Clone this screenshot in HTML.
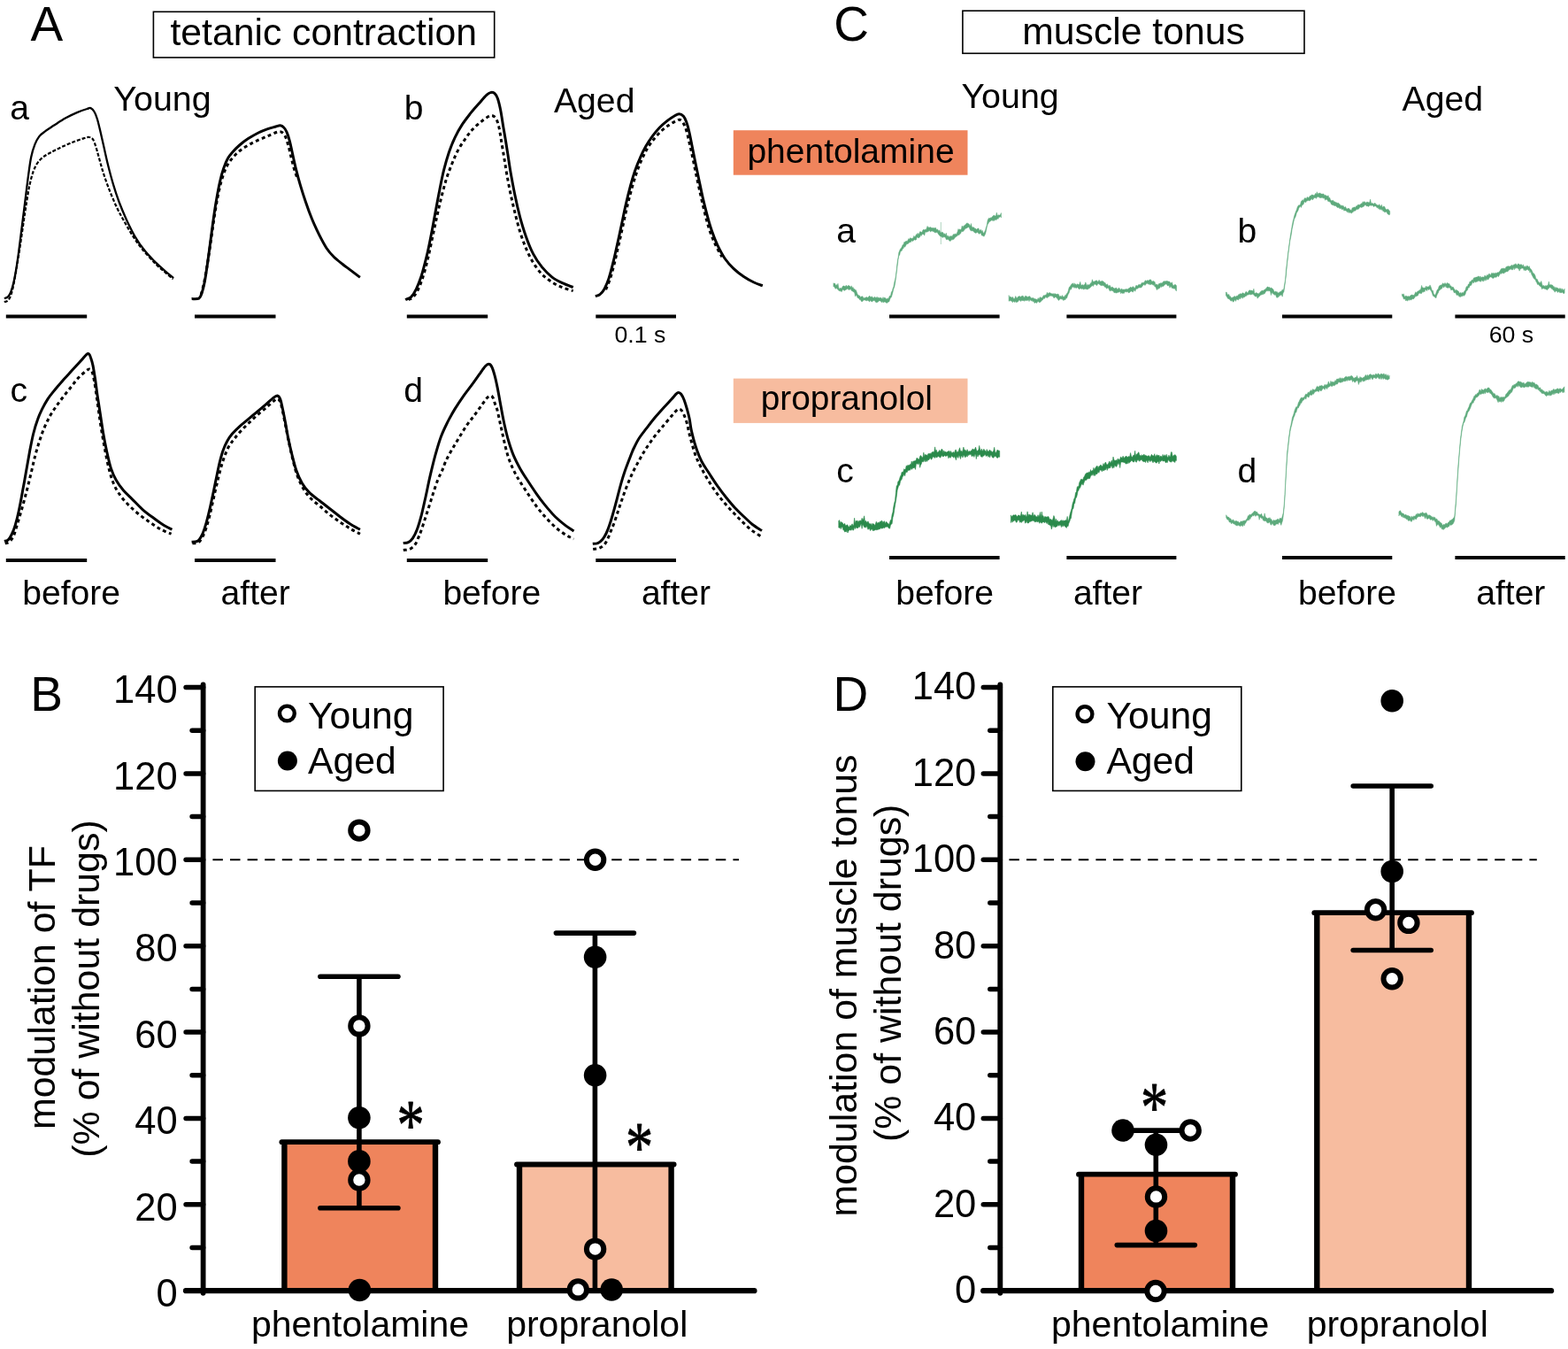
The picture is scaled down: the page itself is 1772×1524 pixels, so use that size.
<!DOCTYPE html>
<html lang="en"><head><meta charset="utf-8"><title>Figure</title>
<style>html,body{margin:0;padding:0;background:#fff;}body{width:1772px;height:1524px;overflow:hidden;}svg{display:block;}text{font-family:"Liberation Sans",sans-serif;fill:#000;}.ser{font-family:"Liberation Serif","DejaVu Serif",serif;}</style></head><body>
<svg width="1772" height="1524" viewBox="0 0 1772 1524">
<rect width="1772" height="1524" fill="#fff"/>
<text x="34.5" y="46.4" font-size="55">A</text>
<text x="34.2" y="803.0" font-size="55">B</text>
<text x="942.2" y="45.8" font-size="55">C</text>
<text x="941.5" y="803.0" font-size="55">D</text>
<rect x="173.4" y="13.3" width="385.3" height="51.7" fill="#fff" stroke="#000" stroke-width="1.6"/>
<text x="365.7" y="50.8" font-size="42.7" text-anchor="middle">tetanic contraction</text>
<rect x="1087.9" y="12.2" width="386.1" height="48.1" fill="#fff" stroke="#000" stroke-width="1.6"/>
<text x="1281.0" y="49.7" font-size="42.7" text-anchor="middle">muscle tonus</text>
<rect x="828.8" y="147.2" width="264.7" height="50.5" fill="#EF845C"/>
<text x="961.5" y="183.5" font-size="39" text-anchor="middle">phentolamine</text>
<rect x="828.8" y="427.6" width="264.7" height="50.3" fill="#F7BC9F"/>
<text x="956.8" y="462.7" font-size="38.8" text-anchor="middle">propranolol</text>
<text x="183.5" y="124.6" font-size="39.4" text-anchor="middle">Young</text>
<text x="671.7" y="126.6" font-size="39.2" text-anchor="middle">Aged</text>
<text x="11.3" y="134.8" font-size="39.1" text-anchor="start">a</text>
<text x="456.8" y="134.9" font-size="39.1" text-anchor="start">b</text>
<text x="11.5" y="454.0" font-size="39.1" text-anchor="start">c</text>
<text x="456.3" y="454.0" font-size="39.1" text-anchor="start">d</text>
<text x="723.4" y="387.0" font-size="26.7" text-anchor="middle">0.1 s</text>
<text x="80.6" y="683.0" font-size="39.1" text-anchor="middle">before</text>
<text x="288.7" y="683.0" font-size="39.1" text-anchor="middle">after</text>
<text x="555.8" y="683.0" font-size="39.1" text-anchor="middle">before</text>
<text x="764.0" y="683.0" font-size="39.1" text-anchor="middle">after</text>
<text x="1141.6" y="121.9" font-size="39.4" text-anchor="middle">Young</text>
<text x="1630.3" y="124.8" font-size="39.2" text-anchor="middle">Aged</text>
<text x="945.3" y="274.4" font-size="39.1" text-anchor="start">a</text>
<text x="1398.6" y="274.4" font-size="39.1" text-anchor="start">b</text>
<text x="945.3" y="545.2" font-size="39.1" text-anchor="start">c</text>
<text x="1398.6" y="545.2" font-size="39.1" text-anchor="start">d</text>
<text x="1708.0" y="387.0" font-size="26.7" text-anchor="middle">60 s</text>
<text x="1067.6" y="683.0" font-size="39.1" text-anchor="middle">before</text>
<text x="1252.0" y="683.0" font-size="39.1" text-anchor="middle">after</text>
<text x="1522.5" y="683.0" font-size="39.1" text-anchor="middle">before</text>
<text x="1707.3" y="683.0" font-size="39.1" text-anchor="middle">after</text>
<line x1="6.8" y1="357.6" x2="98.2" y2="357.6" stroke="#000" stroke-width="4"/>
<line x1="220.0" y1="357.6" x2="311.5" y2="357.6" stroke="#000" stroke-width="4"/>
<line x1="459.8" y1="357.6" x2="551.2" y2="357.6" stroke="#000" stroke-width="4"/>
<line x1="673.3" y1="357.6" x2="764.0" y2="357.6" stroke="#000" stroke-width="4"/>
<line x1="6.8" y1="633.1" x2="98.2" y2="633.1" stroke="#000" stroke-width="4"/>
<line x1="220.0" y1="633.1" x2="311.5" y2="633.1" stroke="#000" stroke-width="4"/>
<line x1="459.8" y1="633.1" x2="551.2" y2="633.1" stroke="#000" stroke-width="4"/>
<line x1="673.3" y1="633.1" x2="764.0" y2="633.1" stroke="#000" stroke-width="4"/>
<line x1="1005.0" y1="357.6" x2="1129.6" y2="357.6" stroke="#000" stroke-width="4"/>
<line x1="1205.4" y1="357.6" x2="1329.4" y2="357.6" stroke="#000" stroke-width="4"/>
<line x1="1449.0" y1="357.6" x2="1573.3" y2="357.6" stroke="#000" stroke-width="4"/>
<line x1="1644.4" y1="357.6" x2="1768.7" y2="357.6" stroke="#000" stroke-width="4"/>
<line x1="1005.0" y1="630.1" x2="1129.6" y2="630.1" stroke="#000" stroke-width="4"/>
<line x1="1205.4" y1="630.1" x2="1329.4" y2="630.1" stroke="#000" stroke-width="4"/>
<line x1="1449.0" y1="630.1" x2="1573.3" y2="630.1" stroke="#000" stroke-width="4"/>
<line x1="1644.4" y1="630.1" x2="1768.7" y2="630.1" stroke="#000" stroke-width="4"/>
<g fill="none" stroke="#000" stroke-linejoin="round" stroke-linecap="butt">
<path d="M4.9,337.1C5.6,336.8 7.8,336.7 9.0,335.4C10.3,334.2 11.2,332.6 12.3,329.7C13.4,326.8 14.5,323.1 15.6,318.2C16.7,313.3 17.8,307.0 18.9,300.2C20.0,293.3 21.1,285.4 22.1,277.2C23.2,269.0 24.3,259.7 25.4,250.9C26.5,242.2 27.6,233.4 28.7,224.7C29.8,215.9 30.9,206.4 32.0,198.4C33.1,190.5 34.0,183.0 35.3,177.1C36.5,171.2 37.9,167.0 39.4,163.2C40.9,159.3 42.4,156.6 44.3,154.1C46.2,151.7 48.1,150.4 50.9,148.4C53.6,146.3 56.9,144.3 60.7,141.8C64.5,139.4 69.5,136.1 73.8,133.6C78.2,131.2 82.9,128.8 87.0,127.1C91.1,125.3 95.8,123.8 98.4,123.0C101.0,122.1 101.2,121.6 102.5,122.1C103.9,122.7 105.4,124.2 106.6,126.3C107.9,128.3 108.8,130.9 109.9,134.5C111.0,138.0 112.0,142.4 113.2,147.6C114.4,152.8 115.8,159.1 117.3,165.6C118.8,172.2 120.4,179.8 122.2,187.0C124.0,194.1 125.9,201.4 128.0,208.3C130.0,215.1 132.1,221.4 134.5,228.0C137.0,234.5 139.7,241.1 142.7,247.7C145.7,254.2 149.0,261.3 152.6,267.3C156.1,273.4 160.2,279.0 164.1,283.8C167.9,288.5 172.0,292.5 175.5,296.1C179.1,299.6 182.0,302.1 185.4,305.1C188.8,308.1 194.3,312.6 196.1,314.1" stroke-width="2.3"/>
<path d="M4.9,341.2C5.7,340.8 8.3,340.9 9.8,338.7C11.3,336.5 12.7,332.6 13.9,328.0C15.2,323.5 16.1,317.7 17.2,311.6C18.3,305.6 19.4,298.8 20.5,292.0C21.6,285.1 22.7,278.0 23.8,270.6C24.9,263.2 26.0,255.0 27.1,247.7C28.2,240.3 29.3,232.9 30.4,226.3C31.4,219.8 32.4,213.8 33.6,208.3C34.9,202.8 36.2,197.6 37.7,193.5C39.2,189.4 40.7,186.4 42.7,183.7C44.6,180.9 46.8,179.0 49.2,177.1C51.7,175.2 54.1,174.0 57.4,172.2C60.7,170.4 64.8,168.4 68.9,166.4C73.0,164.5 77.9,162.3 82.0,160.7C86.1,159.1 90.4,157.6 93.5,156.6C96.7,155.6 99.0,154.8 100.9,155.0C102.8,155.1 103.8,155.6 105.0,157.4C106.2,159.2 107.2,162.3 108.3,165.6C109.4,168.9 110.3,172.7 111.6,177.1C112.8,181.5 114.2,187.0 115.7,191.9C117.2,196.8 118.8,201.7 120.6,206.6C122.4,211.6 124.3,216.5 126.3,221.4C128.4,226.3 130.7,231.7 132.9,236.2C135.1,240.7 136.9,243.8 139.5,248.5C142.1,253.1 145.1,258.7 148.5,264.1C151.9,269.4 155.5,274.9 160.0,280.5C164.5,286.1 171.0,293.1 175.5,297.7C180.1,302.3 183.7,305.1 187.0,308.0C190.4,311.0 194.1,314.0 195.6,315.3" stroke-width="2.2" stroke-dasharray="4 2"/>
<path d="M216.6,337.6C217.9,337.5 222.9,338.1 224.8,337.1C226.7,336.0 227.0,334.5 228.0,331.3C229.1,328.2 230.2,323.9 231.3,318.2C232.4,312.5 233.5,304.5 234.6,296.9C235.7,289.2 236.8,280.5 237.9,272.3C239.0,264.1 240.1,255.3 241.2,247.7C242.3,240.0 243.2,233.4 244.5,226.3C245.7,219.2 247.2,211.0 248.6,205.0C249.9,199.0 251.2,194.6 252.7,190.2C254.2,185.9 255.9,181.8 257.6,178.8C259.2,175.7 260.3,174.6 262.5,172.2C264.7,169.7 267.7,166.6 270.7,164.0C273.7,161.4 277.0,158.9 280.5,156.6C284.1,154.3 288.5,151.8 292.0,150.0C295.6,148.3 298.6,147.1 301.9,145.9C305.2,144.8 309.3,143.7 311.7,143.0C314.2,142.3 315.1,141.7 316.6,141.8C318.1,142.0 319.5,142.7 320.7,144.0C322.0,145.2 322.9,146.7 324.0,149.2C325.1,151.7 326.2,155.0 327.3,159.1C328.4,163.2 329.4,168.4 330.6,173.8C331.8,179.3 333.2,185.9 334.7,191.9C336.2,197.9 337.8,203.9 339.6,209.9C341.4,215.9 343.2,221.7 345.4,228.0C347.5,234.3 350.1,241.4 352.7,247.7C355.3,253.9 358.2,260.2 360.9,265.7C363.7,271.2 366.4,276.4 369.1,280.5C371.9,284.6 374.3,287.3 377.3,290.3C380.4,293.3 383.9,295.9 387.2,298.5C390.5,301.1 393.8,303.4 397.0,305.9C400.3,308.4 405.2,312.1 406.9,313.3" stroke-width="3"/>
<path d="M227.2,333.0C227.8,330.8 229.4,325.0 230.5,319.8C231.6,314.6 232.7,308.4 233.8,301.8C234.9,295.2 236.0,287.9 237.1,280.5C238.2,273.1 239.3,264.9 240.4,257.5C241.4,250.1 242.5,242.7 243.6,236.2C244.7,229.6 245.7,223.9 246.9,218.1C248.1,212.4 249.5,206.6 251.0,201.7C252.5,196.8 254.0,192.4 255.9,188.6C257.9,184.8 260.0,181.8 262.5,178.8C265.0,175.7 267.7,173.0 270.7,170.5C273.7,168.1 277.0,166.0 280.5,164.0C284.1,161.9 288.2,160.0 292.0,158.2C295.9,156.5 300.0,154.8 303.5,153.3C307.1,151.8 310.9,149.9 313.4,149.2C315.8,148.5 316.8,148.4 318.3,149.2C319.8,150.0 321.2,151.7 322.4,154.1C323.6,156.6 324.6,160.2 325.7,164.0C326.8,167.8 327.9,172.7 328.9,177.1C330.0,181.5 331.1,186.4 332.2,190.2C333.3,194.1 335.0,198.4 335.5,200.1" stroke-width="3" stroke-dasharray="3.9 3.5"/>
<path d="M458.2,338.6C459.3,338.0 462.7,337.3 464.8,335.3C466.8,333.2 468.6,330.2 470.5,326.3C472.4,322.3 474.3,317.5 476.3,311.5C478.2,305.5 480.2,297.5 482.0,290.2C483.8,282.8 485.3,275.4 486.9,267.2C488.6,259.0 490.2,249.7 491.8,240.9C493.5,232.2 495.1,222.9 496.8,214.7C498.4,206.5 499.9,198.8 501.7,191.7C503.5,184.6 505.4,178.0 507.4,172.0C509.5,166.0 511.5,160.8 514.0,155.6C516.4,150.4 519.2,145.5 522.2,140.9C525.2,136.2 528.8,131.8 532.0,127.7C535.3,123.6 538.9,119.7 541.9,116.3C544.9,112.8 547.9,109.2 550.1,107.2C552.3,105.3 553.5,104.7 555.0,104.4C556.5,104.2 557.9,104.4 559.1,105.6C560.3,106.7 561.3,108.2 562.4,111.3C563.5,114.5 564.6,119.0 565.7,124.5C566.8,129.9 567.7,136.8 568.9,144.1C570.2,151.5 571.7,160.3 573.0,168.8C574.4,177.2 575.6,186.3 577.1,195.0C578.7,203.8 580.3,212.8 582.1,221.3C583.8,229.7 585.8,238.2 587.8,245.9C589.9,253.5 591.9,260.4 594.4,267.2C596.8,274.0 599.6,281.1 602.6,286.9C605.6,292.6 608.9,297.3 612.4,301.6C616.0,306.0 620.1,310.1 623.9,313.1C627.7,316.1 631.4,317.8 635.4,319.7C639.4,321.6 645.6,323.8 647.7,324.6" stroke-width="3"/>
<path d="M461.5,338.6C462.3,338.1 464.6,337.9 466.4,336.1C468.2,334.3 470.2,331.7 472.1,327.9C474.1,324.1 476.0,319.1 477.9,313.1C479.8,307.1 481.9,299.2 483.6,291.8C485.4,284.4 486.9,276.5 488.6,268.8C490.2,261.2 491.8,253.2 493.5,245.9C495.1,238.5 496.6,231.6 498.4,224.5C500.2,217.4 502.1,209.8 504.1,203.2C506.2,196.6 508.5,190.6 510.7,185.2C512.9,179.7 514.8,175.0 517.3,170.4C519.7,165.7 522.7,161.2 525.5,157.3C528.2,153.3 530.7,149.9 533.7,146.6C536.7,143.3 540.5,140.0 543.5,137.6C546.5,135.1 549.5,133.0 551.7,131.8C553.9,130.7 555.1,130.3 556.6,130.7C558.1,131.1 559.5,132.1 560.7,134.3C562.0,136.5 563.1,140.0 564.0,144.1C565.0,148.2 565.5,153.2 566.5,158.9C567.4,164.6 568.7,172.0 569.8,178.6C570.9,185.2 571.8,191.4 573.0,198.3C574.3,205.1 575.6,212.5 577.1,219.6C578.7,226.7 580.3,233.8 582.1,240.9C583.8,248.0 585.8,255.7 587.8,262.3C589.9,268.8 591.9,274.6 594.4,280.3C596.8,286.1 599.6,291.8 602.6,296.7C605.6,301.6 608.9,306.2 612.4,309.8C616.0,313.5 620.1,316.4 623.9,318.9C627.7,321.3 631.4,323.0 635.4,324.6C639.4,326.3 645.6,328.0 647.7,328.7" stroke-width="3" stroke-dasharray="3.9 3.5"/>
<path d="M672.8,334.6C673.7,334.3 676.4,334.0 678.0,332.6C679.7,331.3 681.3,329.4 683.0,326.4C684.6,323.5 686.3,319.8 687.9,314.9C689.5,310.0 691.2,303.4 692.8,296.9C694.5,290.3 696.1,282.9 697.7,275.5C699.4,268.2 701.0,260.2 702.7,252.6C704.3,244.9 705.9,236.7 707.6,229.6C709.2,222.5 710.9,215.9 712.5,209.9C714.1,203.9 715.6,198.7 717.4,193.5C719.2,188.3 721.1,183.4 723.2,178.8C725.2,174.1 727.4,169.7 729.7,165.6C732.1,161.5 734.5,157.7 737.1,154.1C739.7,150.6 742.6,147.2 745.3,144.3C748.0,141.4 750.8,139.1 753.5,136.9C756.3,134.7 759.4,132.5 761.7,131.2C764.0,129.8 765.7,128.7 767.5,128.7C769.2,128.7 771.0,129.7 772.4,131.2C773.8,132.7 774.6,134.7 775.7,137.7C776.8,140.7 777.9,144.6 778.9,149.2C780.0,153.9 781.1,160.2 782.2,165.6C783.3,171.1 784.3,176.0 785.5,182.0C786.7,188.0 788.1,194.6 789.6,201.7C791.1,208.8 792.9,217.6 794.5,224.7C796.2,231.8 797.8,238.4 799.5,244.4C801.1,250.4 802.5,255.3 804.4,260.8C806.3,266.3 808.5,272.0 810.9,277.2C813.4,282.4 816.1,287.6 819.1,292.0C822.1,296.3 825.4,300.0 829.0,303.4C832.5,306.9 836.6,309.9 840.5,312.5C844.3,315.1 848.4,317.3 852.0,319.0C855.5,320.7 860.2,322.2 861.8,322.8" stroke-width="3"/>
<path d="M684.6,327.2C685.4,325.2 687.9,320.0 689.5,314.9C691.2,309.9 692.8,303.4 694.5,296.9C696.1,290.3 697.7,282.8 699.4,275.5C701.0,268.3 702.7,260.8 704.3,253.4C705.9,246.0 707.6,238.1 709.2,231.3C710.9,224.4 712.5,218.3 714.1,212.4C715.8,206.5 717.3,201.2 719.1,196.0C720.8,190.8 722.8,185.9 724.8,181.2C726.9,176.6 729.0,172.1 731.4,168.1C733.7,164.1 736.2,160.7 738.8,157.4C741.3,154.1 744.2,151.0 747.0,148.4C749.7,145.8 752.4,143.8 755.2,141.8C757.9,139.9 761.2,138.0 763.4,136.9C765.5,135.8 766.8,134.9 768.3,135.3C769.8,135.7 771.2,137.3 772.4,139.4C773.6,141.4 774.6,144.0 775.7,147.6C776.8,151.1 777.9,156.1 778.9,160.7C780.0,165.4 781.0,169.7 782.2,175.5C783.5,181.2 784.8,188.0 786.3,195.2C787.8,202.3 789.6,210.7 791.3,218.1C792.9,225.5 794.5,232.9 796.2,239.5C797.8,246.0 799.2,251.6 801.1,257.5C803.0,263.4 805.2,269.3 807.7,274.7C810.1,280.2 814.5,287.7 815.9,290.3" stroke-width="3" stroke-dasharray="3.9 3.5"/>
<path d="M4.9,611.4C5.6,611.2 7.7,611.3 9.0,610.1C10.4,608.9 11.8,606.8 13.1,604.0C14.5,601.2 15.9,597.9 17.2,593.4C18.6,588.8 20.0,583.2 21.3,577.0C22.7,570.7 24.1,563.0 25.4,555.6C26.8,548.2 28.2,540.3 29.5,532.7C30.9,525.0 32.3,516.8 33.6,509.7C35.0,502.6 36.2,496.0 37.7,490.0C39.2,484.0 41.0,478.2 42.7,473.6C44.3,468.9 45.7,465.9 47.6,462.1C49.5,458.3 51.7,454.3 54.1,450.6C56.6,446.9 59.3,443.7 62.3,440.0C65.4,436.3 68.9,432.2 72.2,428.5C75.5,424.8 78.8,421.4 82.0,417.8C85.3,414.3 89.3,410.0 91.9,407.1C94.5,404.3 96.2,401.8 97.6,400.6C99.0,399.4 99.6,399.2 100.4,399.8C101.2,400.3 101.8,401.7 102.5,403.9C103.3,406.1 104.2,408.9 105.0,412.9C105.8,416.9 106.6,422.2 107.5,427.7C108.3,433.1 109.0,439.1 109.9,445.7C110.9,452.3 112.1,459.9 113.2,467.0C114.3,474.1 115.3,481.3 116.5,488.4C117.7,495.5 119.1,502.9 120.6,509.7C122.1,516.5 123.7,523.9 125.5,529.4C127.3,534.8 128.9,538.4 131.3,542.5C133.6,546.6 136.4,550.4 139.5,554.0C142.5,557.5 145.7,560.3 149.3,563.8C152.9,567.4 157.0,571.9 160.8,575.3C164.6,578.7 168.4,581.5 172.3,584.3C176.1,587.2 180.1,590.2 183.8,592.5C187.4,594.9 192.6,597.3 194.4,598.3" stroke-width="3"/>
<path d="M5.7,613.9C6.6,613.6 9.0,613.7 10.7,612.2C12.3,610.7 14.1,608.3 15.6,604.8C17.1,601.4 18.2,596.6 19.7,591.7C21.2,586.8 22.9,581.3 24.6,575.3C26.3,569.3 28.2,562.2 29.9,555.6C31.6,549.1 33.2,542.5 34.8,535.9C36.4,529.4 37.7,522.5 39.4,516.3C41.0,510.0 42.8,503.7 44.6,498.2C46.4,492.7 48.1,488.1 50.0,483.4C52.0,478.8 54.1,474.3 56.3,470.3C58.5,466.3 60.7,463.2 63.2,459.6C65.6,456.1 68.1,452.7 70.9,449.0C73.7,445.3 77.1,441.2 80.1,437.5C83.0,433.8 85.8,429.8 88.6,426.8C91.4,423.8 94.7,421.1 96.8,419.5C98.8,417.8 99.7,416.9 100.9,417.0C102.1,417.1 103.2,417.9 104.2,420.3C105.1,422.6 105.8,426.4 106.6,430.9C107.5,435.4 108.3,441.6 109.1,447.3C109.9,453.1 110.6,458.8 111.6,465.4C112.5,472.0 113.6,479.3 114.8,486.7C116.1,494.1 117.4,502.0 118.9,509.7C120.4,517.3 122.1,526.1 123.9,532.7C125.6,539.2 127.3,544.1 129.6,549.1C131.9,554.0 134.8,558.2 137.8,562.2C140.8,566.2 144.1,569.4 147.7,572.9C151.2,576.3 155.3,579.7 159.1,582.7C163.0,585.7 166.8,588.3 170.6,590.9C174.5,593.5 178.3,596.2 182.1,598.3C185.9,600.3 191.7,602.4 193.6,603.2" stroke-width="3" stroke-dasharray="3.9 3.5"/>
<path d="M216.6,612.2C217.7,612.1 221.3,612.4 223.1,611.4C224.9,610.5 225.9,608.9 227.2,606.5C228.6,604.0 230.0,600.7 231.3,596.6C232.7,592.5 234.1,587.3 235.4,581.9C236.8,576.4 238.2,570.1 239.5,563.8C240.9,557.5 242.3,550.7 243.6,544.1C245.0,537.6 246.4,530.2 247.7,524.5C249.1,518.7 250.3,514.1 251.8,509.7C253.3,505.3 255.0,501.5 256.8,498.2C258.5,494.9 260.2,492.7 262.5,490.0C264.8,487.3 267.7,484.5 270.7,481.8C273.7,479.1 277.3,476.3 280.5,473.6C283.8,470.9 287.1,468.1 290.4,465.4C293.7,462.7 297.2,459.8 300.2,457.2C303.2,454.6 306.3,451.5 308.4,449.8C310.6,448.1 312.0,446.9 313.4,447.0C314.7,447.2 315.7,448.4 316.6,450.6C317.6,452.9 318.1,456.1 319.1,460.5C320.1,464.8 321.3,471.1 322.4,476.9C323.5,482.6 324.4,488.9 325.7,494.9C326.9,500.9 328.3,507.0 329.8,513.0C331.3,519.0 332.8,525.5 334.7,531.0C336.6,536.5 338.8,541.5 341.3,545.8C343.7,550.0 346.2,553.2 349.5,556.4C352.7,559.7 357.1,562.5 360.9,565.5C364.8,568.5 368.6,571.5 372.4,574.5C376.3,577.5 380.1,580.6 383.9,583.5C387.7,586.4 391.6,589.3 395.4,591.7C399.2,594.2 405.0,597.2 406.9,598.3" stroke-width="3"/>
<path d="M217.4,613.9C218.5,613.7 222.0,614.3 223.9,613.0C225.9,611.8 227.4,609.2 228.9,606.5C230.4,603.8 231.6,600.7 233.0,596.6C234.3,592.5 235.7,587.3 237.1,581.9C238.4,576.4 239.8,569.8 241.2,563.8C242.5,557.8 243.9,551.5 245.3,545.8C246.6,540.0 248.0,534.3 249.4,529.4C250.7,524.5 252.0,520.4 253.5,516.3C255.0,512.1 256.6,508.0 258.4,504.8C260.2,501.5 261.8,499.6 264.1,496.6C266.5,493.6 269.3,490.0 272.3,486.7C275.4,483.4 278.9,480.0 282.2,476.9C285.5,473.7 288.8,470.7 292.0,467.9C295.3,465.0 299.0,462.1 301.9,459.6C304.7,457.2 307.3,454.6 309.3,453.1C311.2,451.6 312.1,450.5 313.4,450.6C314.6,450.8 315.6,451.4 316.6,453.9C317.7,456.4 318.6,460.7 319.6,465.4C320.6,470.0 321.7,476.1 322.9,481.8C324.0,487.5 325.2,493.8 326.5,499.8C327.8,505.9 329.1,511.9 330.6,517.9C332.1,523.9 333.6,530.5 335.5,535.9C337.4,541.4 339.6,546.3 342.1,550.7C344.5,555.1 347.0,558.6 350.3,562.2C353.6,565.7 357.9,568.8 361.8,572.0C365.6,575.3 369.4,578.9 373.2,581.9C377.1,584.9 380.9,587.5 384.7,590.1C388.6,592.7 392.5,595.3 396.2,597.5C399.9,599.6 405.1,602.2 406.9,603.2" stroke-width="3" stroke-dasharray="3.9 3.5"/>
<path d="M455.7,613.4C456.7,613.3 459.7,613.6 461.5,612.7C463.3,611.8 464.8,610.5 466.4,608.1C468.0,605.7 469.7,602.7 471.3,598.3C473.0,593.9 474.6,588.2 476.3,581.9C477.9,575.6 479.5,567.9 481.2,560.5C482.8,553.2 484.3,545.2 486.1,537.6C487.9,529.9 489.8,522.0 491.8,514.6C493.9,507.2 496.1,499.6 498.4,493.3C500.7,487.0 503.2,482.1 505.8,476.9C508.4,471.7 511.0,467.0 514.0,462.1C517.0,457.2 520.5,452.0 523.8,447.3C527.1,442.7 530.7,438.3 533.7,434.2C536.7,430.1 539.4,426.2 541.9,422.7C544.3,419.3 546.7,415.6 548.4,413.7C550.2,411.8 551.3,411.1 552.5,411.3C553.8,411.4 554.7,412.3 555.8,414.5C556.9,416.7 558.0,420.3 559.1,424.4C560.2,428.5 561.3,433.7 562.4,439.1C563.5,444.6 564.4,450.6 565.7,457.2C566.9,463.8 568.3,471.7 569.8,478.5C571.3,485.4 572.9,492.2 574.7,498.2C576.5,504.2 578.2,509.4 580.4,514.6C582.6,519.8 585.2,524.7 587.8,529.4C590.4,534.0 593.0,537.9 596.0,542.5C599.0,547.1 602.6,552.6 605.9,557.3C609.1,561.9 612.1,566.0 615.7,570.4C619.3,574.8 623.4,579.7 627.2,583.5C631.0,587.3 635.1,590.6 638.7,593.4C642.2,596.1 646.9,598.8 648.5,599.9" stroke-width="3"/>
<path d="M455.8,621.4C457.0,621.2 460.7,621.4 462.9,620.4C465.1,619.4 467.4,617.3 469.0,615.3C470.6,613.3 471.2,610.9 472.3,608.5C473.4,606.1 474.1,604.7 475.4,601.1C476.7,597.5 478.5,591.8 480.1,586.9C481.7,582.0 483.3,577.0 484.9,572.0C486.5,567.0 488.0,562.1 489.6,557.1C491.2,552.1 493.1,546.4 494.7,542.2C496.3,538.0 498.0,535.5 499.5,532.0C501.0,528.5 501.9,525.1 503.7,521.2C505.5,517.3 508.0,512.8 510.5,508.4C513.0,504.0 515.8,499.4 518.6,494.8C521.4,490.2 524.5,484.9 527.4,480.6C530.3,476.3 533.3,473.1 536.2,469.1C539.1,465.2 542.6,460.2 545.0,456.9C547.4,453.6 548.8,451.1 550.4,449.5C552.0,447.9 553.4,447.1 554.5,447.1C555.6,447.1 556.4,448.1 557.2,449.5C558.0,450.9 558.4,453.4 559.2,455.6C560.0,457.9 561.0,459.7 561.9,463.0C562.8,466.3 563.7,471.1 564.6,475.2C565.5,479.3 566.4,483.3 567.3,487.4C568.2,491.5 569.0,495.3 570.0,499.6C571.0,503.9 572.1,508.9 573.4,513.1C574.6,517.3 575.9,520.8 577.5,524.6C579.1,528.4 581.0,532.6 582.9,536.1C584.8,539.6 586.1,541.7 588.6,545.6C591.1,549.5 594.6,554.8 597.7,559.5C600.9,564.2 604.2,569.4 607.5,573.7C610.8,578.0 613.8,581.4 617.3,585.2C620.8,589.0 625.0,593.3 628.8,596.6C632.6,599.9 637.0,602.8 640.3,604.8C643.6,606.8 647.1,608.2 648.5,608.9" stroke-width="3" stroke-dasharray="3.9 3.5"/>
<path d="M669.8,614.3C670.8,614.2 673.7,614.5 675.6,613.6C677.5,612.8 679.4,611.1 681.0,609.2C682.6,607.4 683.9,605.0 685.1,602.5C686.3,600.0 687.3,597.5 688.4,594.3C689.5,591.1 690.7,587.3 691.8,583.5C692.9,579.7 694.1,575.5 695.2,571.3C696.3,567.1 697.5,562.7 698.6,558.4C699.7,554.1 700.8,549.9 702.0,545.6C703.2,541.3 704.4,537.3 706.0,532.7C707.6,528.1 709.8,522.4 711.5,518.0C713.2,513.6 714.4,510.3 716.2,506.5C718.0,502.7 719.9,498.7 722.3,495.0C724.7,491.3 727.5,488.0 730.4,484.2C733.3,480.4 736.6,475.9 739.9,472.0C743.2,468.1 746.9,464.0 750.1,460.5C753.3,457.0 756.5,453.6 758.9,451.0C761.3,448.4 763.0,446.1 764.3,444.9C765.6,443.6 765.8,443.4 766.7,443.5C767.6,443.6 768.6,443.8 769.7,445.2C770.8,446.6 772.0,448.8 773.1,451.7C774.2,454.6 775.5,458.9 776.5,462.5C777.5,466.1 778.4,469.3 779.2,473.3C780.0,477.3 780.2,481.4 781.4,486.7C782.6,491.9 784.4,499.1 786.3,504.8C788.2,510.6 790.4,516.3 792.9,521.2C795.4,526.1 798.1,529.6 801.1,534.3C804.1,538.9 807.6,544.5 810.9,549.1C814.2,553.8 817.5,558.1 820.8,562.2C824.1,566.3 827.3,570.2 830.6,573.7C833.9,577.2 837.2,580.4 840.5,583.5C843.8,586.6 846.9,589.8 850.3,592.5C853.7,595.2 859.2,598.4 861.0,599.6" stroke-width="3"/>
<path d="M670.2,620.4C671.3,620.2 674.8,620.2 676.9,619.4C679.0,618.5 681.3,617.2 683.0,615.3C684.7,613.4 685.9,610.4 687.1,607.9C688.3,605.4 689.1,602.9 690.1,600.4C691.1,597.9 691.8,596.7 693.2,593.0C694.6,589.3 696.6,583.1 698.3,578.1C700.0,573.1 701.5,568.2 703.3,563.2C705.0,558.2 706.8,553.3 708.8,548.3C710.8,543.3 713.0,538.1 715.2,533.4C717.5,528.7 719.9,524.5 722.3,520.1C724.7,515.7 727.0,511.6 729.8,507.2C732.6,502.8 736.1,497.9 739.2,493.7C742.4,489.5 745.4,486.1 748.7,482.1C752.0,478.2 756.3,473.0 758.9,470.0C761.5,467.0 762.9,465.2 764.3,463.9C765.6,462.6 766.0,462.2 767.0,462.2C768.0,462.2 769.3,462.5 770.4,463.9C771.5,465.3 772.8,468.1 773.8,470.6C774.8,473.1 775.6,475.4 776.5,478.8C777.4,482.2 777.7,485.2 779.2,490.9C780.7,496.6 783.4,506.9 785.5,513.0C787.6,519.1 789.6,522.8 792.1,527.7C794.6,532.6 797.3,537.6 800.3,542.5C803.3,547.4 806.8,552.8 810.1,557.3C813.4,561.8 816.7,565.8 820.0,569.6C823.3,573.4 826.5,576.8 829.8,580.2C833.1,583.6 836.3,587.0 839.6,590.1C842.9,593.2 846.2,596.5 849.5,599.1C852.8,601.7 857.7,604.6 859.3,605.7" stroke-width="3" stroke-dasharray="3.9 3.5"/>
</g>
<g stroke-linejoin="round">
<path d="M941.9,319.7L942.7,320.3L943.6,320.1L944.4,322.6L945.3,321.5L946.1,322.5L947.0,320.3L947.8,325.1L948.7,326.4L949.5,325.3L950.4,325.7L951.2,325.8L952.1,323.8L952.9,322.9L953.8,323.0L954.6,323.5L955.5,323.6L956.3,322.1L957.2,324.0L958.0,323.0L958.9,322.3L959.7,323.1L960.6,323.2L961.4,324.7L962.3,322.8L963.1,325.3L964.0,324.4L964.8,326.5L965.7,326.4L966.5,327.4L967.4,327.7L968.2,329.9L969.1,332.4L969.9,333.2L970.8,333.9L971.6,334.0L972.5,336.1L973.3,335.1L974.2,334.8L975.0,334.9L975.9,337.0L976.7,336.5L977.6,336.4L978.4,336.0L979.3,335.5L980.1,336.1L981.0,336.3L981.8,335.0L982.7,334.1L983.5,335.4L984.4,335.5L985.2,334.7L986.1,336.6L986.9,335.7L987.8,337.0L988.6,335.0L989.5,336.5L990.3,336.2L991.2,335.3L992.0,337.0L992.9,335.8L993.7,336.7L994.6,336.6L995.4,336.1L996.3,337.1L997.1,338.0L998.0,335.6L998.8,337.7L999.7,336.0L1000.5,336.6L1001.4,337.8L1002.2,338.1L1003.1,336.7L1003.9,337.7L1004.8,335.5L1005.6,334.1L1006.5,334.2L1007.3,330.1L1008.2,328.9L1009.0,326.0L1009.9,323.7L1010.7,319.1L1011.6,315.8L1012.4,311.1L1013.3,303.4L1014.1,296.0L1015.0,291.0L1015.8,285.2L1016.7,283.1L1017.5,281.2L1018.4,280.2L1019.2,279.1L1020.1,276.5L1020.9,276.8L1021.8,273.5L1022.6,273.6L1023.5,272.6L1024.3,272.3L1025.2,272.8L1026.0,271.3L1026.9,269.5L1027.7,270.6L1028.6,268.7L1029.4,269.1L1030.3,269.4L1031.1,269.3L1032.0,268.7L1032.8,266.4L1033.7,267.4L1034.5,267.1L1035.4,264.7L1036.2,265.3L1037.1,263.3L1037.9,264.7L1038.8,263.7L1039.6,261.7L1040.5,261.7L1041.3,262.5L1042.2,261.8L1043.0,259.8L1043.9,259.2L1044.7,260.1L1045.6,259.0L1046.4,259.7L1047.3,257.6L1048.1,255.4L1049.0,257.3L1049.8,256.7L1050.7,257.0L1051.5,256.6L1052.4,257.2L1053.2,257.6L1054.1,257.5L1054.9,257.4L1055.8,257.7L1056.6,257.6L1057.5,257.3L1058.3,259.6L1059.2,258.9L1060.0,259.5L1060.9,261.4L1061.7,259.8L1062.6,262.2L1063.4,263.1L1064.3,262.3L1065.1,262.2L1066.0,263.1L1066.8,264.8L1067.7,263.7L1068.5,265.6L1069.4,263.3L1070.2,267.5L1071.1,265.9L1071.9,267.0L1072.8,267.9L1073.6,266.4L1074.5,267.0L1075.3,266.5L1076.2,267.2L1077.0,265.1L1077.9,264.6L1078.7,264.7L1079.6,264.1L1080.4,264.8L1081.3,263.4L1082.1,261.8L1083.0,258.6L1083.8,259.8L1084.7,258.8L1085.5,259.5L1086.4,259.0L1087.2,255.1L1088.1,256.9L1088.9,255.2L1089.8,255.0L1090.6,253.9L1091.5,253.3L1092.3,252.3L1093.2,251.8L1094.0,253.0L1094.9,252.7L1095.7,254.1L1096.6,255.4L1097.4,252.5L1098.3,256.3L1099.1,256.9L1100.0,256.6L1100.8,257.1L1101.7,258.2L1102.5,258.1L1103.4,259.3L1104.2,258.7L1105.1,258.0L1105.9,257.9L1106.8,260.4L1107.6,259.9L1108.5,259.2L1109.3,261.4L1110.2,260.3L1111.0,262.7L1111.9,263.5L1112.7,261.7L1113.6,259.9L1114.4,256.9L1115.3,254.2L1116.1,248.9L1117.0,247.1L1117.8,246.2L1118.7,246.8L1119.5,245.8L1120.4,246.1L1121.2,245.1L1122.1,244.1L1122.9,243.3L1123.8,243.3L1124.6,244.0L1125.5,243.7L1126.3,240.1L1127.2,243.9L1128.0,242.6L1128.9,243.3L1129.7,243.0L1130.6,242.5L1131.4,240.6L1131.4,245.9L1130.6,244.5L1129.7,245.4L1128.9,245.2L1128.0,247.5L1127.2,246.7L1126.3,248.3L1125.5,248.6L1124.6,248.1L1123.8,249.1L1122.9,249.8L1122.1,248.5L1121.2,249.4L1120.4,248.8L1119.5,249.7L1118.7,250.6L1117.8,250.3L1117.0,252.6L1116.1,253.4L1115.3,256.5L1114.4,260.9L1113.6,264.2L1112.7,265.9L1111.9,267.3L1111.0,266.4L1110.2,266.1L1109.3,266.0L1108.5,263.3L1107.6,263.5L1106.8,264.4L1105.9,263.8L1105.1,262.7L1104.2,262.2L1103.4,263.2L1102.5,263.3L1101.7,263.1L1100.8,262.2L1100.0,261.2L1099.1,260.7L1098.3,260.7L1097.4,260.8L1096.6,260.2L1095.7,258.2L1094.9,256.2L1094.0,257.1L1093.2,257.0L1092.3,258.1L1091.5,258.1L1090.6,258.8L1089.8,259.8L1088.9,261.0L1088.1,261.8L1087.2,261.4L1086.4,261.8L1085.5,264.1L1084.7,264.2L1083.8,265.8L1083.0,265.0L1082.1,266.4L1081.3,266.8L1080.4,267.6L1079.6,268.0L1078.7,269.1L1077.9,270.6L1077.0,270.1L1076.2,271.2L1075.3,270.6L1074.5,272.1L1073.6,272.6L1072.8,271.9L1071.9,270.7L1071.1,270.2L1070.2,270.8L1069.4,270.7L1068.5,268.6L1067.7,268.1L1066.8,267.6L1066.0,267.9L1065.1,268.6L1064.3,267.4L1063.4,267.1L1062.6,266.9L1061.7,266.0L1060.9,265.3L1060.0,263.8L1059.2,262.6L1058.3,262.5L1057.5,262.8L1056.6,263.0L1055.8,262.1L1054.9,261.6L1054.1,261.5L1053.2,260.8L1052.4,261.2L1051.5,262.0L1050.7,260.5L1049.8,260.8L1049.0,261.7L1048.1,261.5L1047.3,262.4L1046.4,262.1L1045.6,262.3L1044.7,266.2L1043.9,264.2L1043.0,264.9L1042.2,264.2L1041.3,266.4L1040.5,265.6L1039.6,267.8L1038.8,268.5L1037.9,269.0L1037.1,268.0L1036.2,268.1L1035.4,270.9L1034.5,271.3L1033.7,270.7L1032.8,271.3L1032.0,272.2L1031.1,272.5L1030.3,271.7L1029.4,273.6L1028.6,273.4L1027.7,273.9L1026.9,274.5L1026.0,275.7L1025.2,275.4L1024.3,276.1L1023.5,277.7L1022.6,279.3L1021.8,277.9L1020.9,280.9L1020.1,280.8L1019.2,283.3L1018.4,283.8L1017.5,284.3L1016.7,288.2L1015.8,289.0L1015.0,293.4L1014.1,300.8L1013.3,307.6L1012.4,314.5L1011.6,320.2L1010.7,324.5L1009.9,326.3L1009.0,330.1L1008.2,333.0L1007.3,335.9L1006.5,336.3L1005.6,338.4L1004.8,340.9L1003.9,341.1L1003.1,341.8L1002.2,342.5L1001.4,341.9L1000.5,341.3L999.7,340.9L998.8,341.6L998.0,341.8L997.1,340.2L996.3,341.8L995.4,340.2L994.6,339.9L993.7,339.8L992.9,340.5L992.0,341.3L991.2,341.5L990.3,341.8L989.5,341.3L988.6,339.7L987.8,339.6L986.9,339.7L986.1,340.5L985.2,340.9L984.4,340.3L983.5,339.3L982.7,341.0L981.8,340.3L981.0,339.5L980.1,339.1L979.3,340.1L978.4,339.4L977.6,339.1L976.7,339.1L975.9,338.8L975.0,340.4L974.2,340.6L973.3,340.4L972.5,338.4L971.6,338.8L970.8,337.3L969.9,336.7L969.1,336.4L968.2,334.3L967.4,333.5L966.5,334.9L965.7,330.7L964.8,330.0L964.0,329.4L963.1,328.7L962.3,328.4L961.4,326.6L960.6,327.1L959.7,327.2L958.9,327.4L958.0,326.1L957.2,326.4L956.3,327.2L955.5,327.5L954.6,328.3L953.8,328.2L952.9,327.0L952.1,327.6L951.2,329.7L950.4,329.1L949.5,328.8L948.7,328.7L947.8,328.3L947.0,327.0L946.1,326.6L945.3,325.1L944.4,326.4L943.6,325.4L942.7,323.8L941.9,323.9Z" fill="#5DAA7C" stroke="#5DAA7C" stroke-width="0.5"/>
<path d="M1140.1,333.6L1140.9,336.2L1141.8,335.1L1142.6,335.6L1143.5,336.4L1144.3,335.2L1145.2,336.7L1146.0,337.7L1146.9,336.8L1147.7,334.5L1148.6,336.2L1149.4,336.9L1150.3,335.3L1151.1,335.0L1152.0,334.4L1152.8,334.9L1153.7,335.4L1154.5,334.5L1155.4,334.3L1156.2,334.2L1157.1,335.9L1157.9,336.0L1158.8,334.1L1159.6,334.7L1160.5,334.8L1161.3,336.0L1162.2,335.0L1163.0,334.8L1163.9,334.8L1164.7,336.2L1165.6,336.8L1166.4,336.7L1167.3,336.4L1168.1,336.8L1169.0,337.7L1169.8,337.5L1170.7,337.9L1171.5,338.3L1172.4,338.4L1173.2,336.6L1174.1,338.3L1174.9,336.2L1175.8,335.5L1176.6,336.6L1177.5,336.2L1178.3,335.5L1179.2,333.8L1180.0,333.7L1180.9,333.7L1181.7,333.1L1182.6,332.7L1183.4,330.2L1184.3,331.9L1185.1,330.9L1186.0,330.5L1186.8,331.0L1187.7,331.3L1188.5,331.8L1189.4,331.9L1190.2,331.5L1191.1,332.4L1191.9,331.4L1192.8,332.1L1193.6,332.6L1194.5,332.3L1195.3,332.3L1196.2,332.3L1197.0,334.2L1197.9,335.2L1198.7,334.2L1199.6,335.5L1200.4,333.5L1201.3,335.5L1202.1,334.8L1203.0,335.6L1203.8,333.4L1204.7,333.2L1205.5,331.7L1206.4,330.8L1207.2,328.7L1208.1,325.0L1208.9,323.7L1209.8,322.9L1210.6,321.4L1211.5,320.5L1212.3,319.8L1213.2,322.0L1214.0,319.7L1214.9,321.6L1215.7,320.7L1216.6,322.3L1217.4,320.8L1218.3,321.0L1219.1,321.8L1220.0,320.5L1220.8,318.3L1221.7,322.6L1222.5,322.1L1223.4,321.4L1224.2,322.4L1225.1,321.4L1225.9,321.7L1226.8,318.8L1227.6,320.9L1228.5,322.9L1229.3,321.2L1230.2,322.2L1231.0,321.5L1231.9,321.1L1232.7,319.6L1233.6,319.3L1234.4,315.7L1235.3,318.3L1236.1,317.9L1237.0,318.1L1237.8,317.3L1238.7,317.0L1239.5,316.8L1240.4,318.3L1241.2,317.9L1242.1,316.2L1242.9,317.8L1243.8,318.1L1244.6,317.7L1245.5,317.3L1246.3,317.8L1247.2,318.1L1248.0,319.8L1248.9,319.2L1249.7,321.2L1250.6,321.5L1251.4,320.7L1252.3,322.4L1253.1,323.4L1254.0,322.1L1254.8,323.3L1255.7,325.2L1256.5,324.2L1257.4,324.3L1258.2,325.0L1259.1,326.0L1259.9,325.8L1260.8,325.4L1261.6,325.0L1262.5,326.8L1263.3,326.7L1264.2,325.2L1265.0,325.4L1265.9,327.4L1266.7,326.9L1267.6,325.9L1268.4,327.2L1269.3,327.0L1270.1,326.9L1271.0,327.3L1271.8,326.5L1272.7,326.8L1273.5,326.5L1274.4,327.0L1275.2,326.0L1276.1,325.6L1276.9,324.8L1277.8,324.1L1278.6,324.9L1279.5,324.7L1280.3,323.5L1281.2,324.6L1282.0,325.4L1282.9,324.9L1283.7,322.6L1284.6,322.5L1285.4,323.2L1286.3,321.9L1287.1,321.3L1288.0,321.8L1288.8,321.4L1289.7,320.6L1290.5,319.2L1291.4,319.6L1292.2,319.2L1293.1,319.0L1293.9,317.2L1294.8,316.7L1295.6,317.8L1296.5,316.5L1297.3,317.1L1298.2,316.7L1299.0,316.3L1299.9,315.8L1300.7,316.0L1301.6,317.9L1302.4,317.9L1303.3,317.2L1304.1,318.2L1305.0,318.2L1305.8,321.4L1306.7,321.2L1307.5,321.1L1308.4,322.4L1309.2,321.0L1310.1,320.1L1310.9,320.6L1311.8,319.4L1312.6,319.9L1313.5,319.4L1314.3,318.5L1315.2,317.5L1316.0,318.0L1316.9,317.8L1317.7,317.6L1318.6,317.4L1319.4,317.6L1320.3,317.9L1321.1,318.1L1322.0,318.3L1322.8,320.1L1323.7,319.6L1324.5,318.8L1325.4,322.0L1326.2,322.7L1327.1,321.7L1327.9,321.5L1328.8,321.8L1329.6,323.0L1329.6,328.6L1328.8,328.3L1327.9,325.8L1327.1,326.2L1326.2,326.0L1325.4,325.6L1324.5,325.7L1323.7,324.0L1322.8,323.4L1322.0,325.2L1321.1,322.3L1320.3,322.8L1319.4,322.9L1318.6,321.3L1317.7,321.0L1316.9,321.3L1316.0,322.0L1315.2,322.9L1314.3,323.8L1313.5,323.2L1312.6,324.6L1311.8,323.0L1310.9,325.2L1310.1,325.5L1309.2,326.5L1308.4,325.9L1307.5,327.7L1306.7,325.9L1305.8,323.7L1305.0,324.0L1304.1,321.2L1303.3,322.4L1302.4,321.5L1301.6,321.1L1300.7,321.2L1299.9,321.9L1299.0,320.6L1298.2,321.4L1297.3,320.6L1296.5,320.2L1295.6,320.2L1294.8,321.5L1293.9,322.6L1293.1,321.4L1292.2,321.5L1291.4,322.9L1290.5,323.9L1289.7,325.1L1288.8,324.7L1288.0,325.3L1287.1,324.8L1286.3,325.5L1285.4,326.2L1284.6,326.2L1283.7,326.8L1282.9,329.3L1282.0,327.5L1281.2,328.5L1280.3,330.2L1279.5,329.4L1278.6,328.9L1277.8,329.3L1276.9,330.0L1276.1,330.7L1275.2,330.7L1274.4,329.2L1273.5,329.9L1272.7,329.7L1271.8,329.8L1271.0,329.8L1270.1,331.7L1269.3,331.0L1268.4,331.5L1267.6,330.5L1266.7,331.8L1265.9,329.5L1265.0,329.8L1264.2,330.2L1263.3,330.3L1262.5,330.7L1261.6,331.0L1260.8,330.8L1259.9,330.5L1259.1,330.8L1258.2,329.3L1257.4,328.6L1256.5,328.5L1255.7,327.7L1254.8,329.0L1254.0,328.4L1253.1,326.6L1252.3,325.1L1251.4,325.4L1250.6,326.3L1249.7,324.6L1248.9,324.5L1248.0,323.8L1247.2,322.2L1246.3,323.1L1245.5,321.9L1244.6,323.1L1243.8,322.2L1242.9,321.5L1242.1,321.2L1241.2,320.3L1240.4,321.3L1239.5,322.7L1238.7,321.7L1237.8,321.3L1237.0,321.1L1236.1,322.1L1235.3,323.5L1234.4,322.2L1233.6,323.6L1232.7,324.0L1231.9,325.3L1231.0,325.6L1230.2,326.2L1229.3,326.7L1228.5,327.0L1227.6,326.5L1226.8,326.5L1225.9,326.0L1225.1,327.1L1224.2,326.8L1223.4,326.1L1222.5,326.6L1221.7,326.1L1220.8,325.8L1220.0,326.7L1219.1,326.4L1218.3,325.2L1217.4,324.6L1216.6,325.6L1215.7,325.2L1214.9,324.6L1214.0,325.5L1213.2,324.1L1212.3,324.3L1211.5,324.5L1210.6,327.1L1209.8,326.5L1208.9,328.3L1208.1,331.1L1207.2,332.4L1206.4,334.5L1205.5,337.1L1204.7,336.7L1203.8,338.9L1203.0,337.9L1202.1,339.6L1201.3,339.1L1200.4,337.7L1199.6,338.0L1198.7,337.6L1197.9,338.0L1197.0,338.8L1196.2,339.5L1195.3,337.8L1194.5,336.9L1193.6,336.1L1192.8,335.4L1191.9,336.0L1191.1,336.9L1190.2,335.1L1189.4,334.7L1188.5,334.3L1187.7,334.3L1186.8,334.0L1186.0,334.6L1185.1,335.6L1184.3,335.3L1183.4,336.7L1182.6,336.2L1181.7,335.0L1180.9,336.9L1180.0,337.6L1179.2,337.1L1178.3,339.0L1177.5,339.3L1176.6,340.5L1175.8,341.1L1174.9,342.0L1174.1,341.2L1173.2,340.5L1172.4,341.1L1171.5,342.6L1170.7,341.7L1169.8,341.9L1169.0,342.5L1168.1,339.8L1167.3,341.0L1166.4,339.5L1165.6,340.1L1164.7,339.1L1163.9,338.5L1163.0,340.6L1162.2,338.4L1161.3,339.5L1160.5,339.6L1159.6,339.4L1158.8,338.9L1157.9,340.4L1157.1,339.0L1156.2,340.0L1155.4,339.4L1154.5,339.2L1153.7,340.6L1152.8,339.6L1152.0,338.9L1151.1,339.6L1150.3,341.1L1149.4,341.2L1148.6,341.7L1147.7,339.9L1146.9,341.7L1146.0,340.7L1145.2,340.2L1144.3,341.8L1143.5,340.1L1142.6,340.3L1141.8,339.3L1140.9,340.2L1140.1,340.1Z" fill="#5DAA7C" stroke="#5DAA7C" stroke-width="0.5"/>
<path d="M1385.4,330.1L1386.3,330.2L1387.1,332.7L1388.0,333.1L1388.8,332.4L1389.7,334.9L1390.5,334.7L1391.4,336.5L1392.2,336.3L1393.1,336.0L1393.9,335.4L1394.8,334.9L1395.6,334.4L1396.5,335.7L1397.3,334.3L1398.2,334.5L1399.0,333.7L1399.9,332.4L1400.7,332.7L1401.6,331.6L1402.4,332.0L1403.3,332.0L1404.1,331.0L1405.0,330.8L1405.8,331.8L1406.7,332.1L1407.5,330.1L1408.4,329.2L1409.2,330.6L1410.1,331.0L1410.9,329.1L1411.8,328.1L1412.6,327.7L1413.5,328.3L1414.3,328.1L1415.2,328.2L1416.0,329.2L1416.9,326.2L1417.7,330.9L1418.6,331.5L1419.4,330.6L1420.3,331.0L1421.1,331.4L1422.0,331.8L1422.8,331.7L1423.7,330.6L1424.5,329.5L1425.4,329.0L1426.2,328.1L1427.1,328.5L1427.9,328.2L1428.8,327.3L1429.6,326.9L1430.5,326.0L1431.3,325.3L1432.2,324.1L1433.0,323.9L1433.9,325.1L1434.7,324.3L1435.6,325.8L1436.4,325.1L1437.3,325.5L1438.1,326.2L1439.0,327.0L1439.8,329.0L1440.7,330.1L1441.5,328.9L1442.4,329.7L1443.2,329.5L1444.1,331.1L1444.9,330.7L1445.8,330.4L1446.6,329.4L1447.5,329.3L1448.3,328.9L1449.2,327.0L1450.0,328.5L1450.9,325.7L1451.7,320.8L1452.6,315.4L1453.4,305.1L1454.3,297.4L1455.1,290.0L1456.0,282.8L1456.8,276.9L1457.7,270.2L1458.5,264.7L1459.4,259.7L1460.2,255.0L1461.1,250.2L1461.9,247.2L1462.8,243.4L1463.6,241.2L1464.5,238.8L1465.3,237.0L1466.2,233.9L1467.0,232.4L1467.9,231.7L1468.7,231.9L1469.6,230.7L1470.4,227.6L1471.3,226.8L1472.1,225.6L1473.0,227.2L1473.8,224.8L1474.7,223.6L1475.5,223.9L1476.4,224.4L1477.2,222.5L1478.1,223.0L1478.9,223.4L1479.8,222.2L1480.6,221.1L1481.5,221.2L1482.3,220.0L1483.2,220.1L1484.0,220.6L1484.9,220.7L1485.7,220.3L1486.6,218.4L1487.4,219.5L1488.3,216.7L1489.1,219.7L1490.0,218.0L1490.8,218.7L1491.7,217.8L1492.5,218.7L1493.4,219.1L1494.2,219.2L1495.1,219.0L1495.9,219.1L1496.8,221.1L1497.6,220.2L1498.5,220.7L1499.3,221.6L1500.2,221.8L1501.0,220.7L1501.9,223.8L1502.7,223.2L1503.6,225.9L1504.4,226.5L1505.3,227.1L1506.1,226.0L1507.0,226.8L1507.8,228.3L1508.7,227.8L1509.5,228.8L1510.4,228.8L1511.2,229.4L1512.1,229.2L1512.9,229.6L1513.8,230.6L1514.6,231.2L1515.5,232.8L1516.3,231.7L1517.2,233.1L1518.0,232.2L1518.9,234.1L1519.7,234.2L1520.6,233.4L1521.4,235.4L1522.3,235.8L1523.1,236.0L1524.0,235.0L1524.8,235.8L1525.7,237.1L1526.5,237.2L1527.4,237.4L1528.2,234.7L1529.1,235.0L1529.9,234.0L1530.8,233.9L1531.6,234.6L1532.5,232.8L1533.3,233.0L1534.2,231.7L1535.0,231.0L1535.9,231.6L1536.7,231.3L1537.6,230.8L1538.4,229.8L1539.3,230.0L1540.1,227.7L1541.0,229.0L1541.8,227.5L1542.7,228.3L1543.5,229.3L1544.4,228.2L1545.2,228.3L1546.1,228.2L1546.9,229.0L1547.8,228.6L1548.6,225.1L1549.5,229.4L1550.3,229.4L1551.2,229.7L1552.0,229.9L1552.9,230.5L1553.7,229.1L1554.6,230.2L1555.4,231.0L1556.3,231.5L1557.1,231.9L1558.0,232.0L1558.8,230.7L1559.7,232.8L1560.5,233.0L1561.4,231.2L1562.2,234.2L1563.1,233.4L1563.9,233.0L1564.8,233.6L1565.6,235.6L1566.5,236.6L1567.3,237.0L1568.2,236.1L1569.0,236.6L1569.9,237.7L1570.7,238.7L1570.7,242.0L1569.9,243.1L1569.0,242.0L1568.2,241.9L1567.3,239.9L1566.5,239.2L1565.6,239.5L1564.8,239.9L1563.9,238.3L1563.1,239.0L1562.2,236.4L1561.4,237.4L1560.5,235.7L1559.7,237.2L1558.8,235.5L1558.0,236.3L1557.1,234.1L1556.3,235.1L1555.4,233.4L1554.6,232.9L1553.7,232.7L1552.9,233.4L1552.0,233.3L1551.2,231.9L1550.3,232.0L1549.5,232.6L1548.6,231.9L1547.8,232.1L1546.9,233.4L1546.1,233.0L1545.2,232.7L1544.4,232.9L1543.5,231.7L1542.7,231.5L1541.8,232.5L1541.0,233.6L1540.1,233.5L1539.3,234.2L1538.4,234.5L1537.6,234.0L1536.7,234.0L1535.9,235.6L1535.0,236.5L1534.2,236.3L1533.3,236.5L1532.5,237.1L1531.6,238.2L1530.8,238.3L1529.9,238.2L1529.1,239.7L1528.2,239.7L1527.4,241.2L1526.5,240.0L1525.7,240.6L1524.8,239.4L1524.0,240.6L1523.1,238.6L1522.3,239.7L1521.4,238.1L1520.6,237.9L1519.7,237.7L1518.9,238.3L1518.0,236.1L1517.2,236.4L1516.3,236.7L1515.5,235.1L1514.6,235.7L1513.8,235.6L1512.9,234.0L1512.1,234.8L1511.2,234.3L1510.4,233.6L1509.5,232.6L1508.7,232.5L1507.8,232.6L1507.0,231.8L1506.1,231.5L1505.3,231.4L1504.4,230.7L1503.6,228.6L1502.7,228.3L1501.9,227.2L1501.0,227.8L1500.2,226.3L1499.3,225.3L1498.5,225.3L1497.6,226.3L1496.8,223.9L1495.9,223.5L1495.1,224.2L1494.2,222.7L1493.4,223.6L1492.5,223.4L1491.7,223.6L1490.8,223.1L1490.0,222.0L1489.1,222.7L1488.3,222.6L1487.4,224.4L1486.6,223.3L1485.7,223.4L1484.9,223.6L1484.0,225.2L1483.2,225.9L1482.3,224.3L1481.5,225.5L1480.6,226.5L1479.8,226.8L1478.9,226.5L1478.1,226.5L1477.2,227.1L1476.4,227.2L1475.5,229.1L1474.7,227.8L1473.8,228.5L1473.0,230.9L1472.1,231.2L1471.3,232.3L1470.4,234.5L1469.6,232.8L1468.7,234.0L1467.9,235.1L1467.0,237.8L1466.2,239.3L1465.3,240.5L1464.5,243.7L1463.6,246.1L1462.8,247.0L1461.9,250.7L1461.1,254.7L1460.2,258.7L1459.4,264.4L1458.5,268.9L1457.7,273.0L1456.8,280.3L1456.0,285.9L1455.1,294.2L1454.3,301.2L1453.4,311.4L1452.6,317.7L1451.7,324.5L1450.9,329.8L1450.0,331.0L1449.2,335.2L1448.3,333.0L1447.5,332.9L1446.6,334.2L1445.8,333.6L1444.9,335.8L1444.1,335.3L1443.2,336.6L1442.4,335.4L1441.5,332.7L1440.7,333.5L1439.8,332.2L1439.0,332.4L1438.1,330.8L1437.3,330.8L1436.4,333.6L1435.6,329.5L1434.7,328.7L1433.9,328.0L1433.0,329.3L1432.2,328.3L1431.3,328.8L1430.5,329.4L1429.6,331.1L1428.8,332.2L1427.9,331.5L1427.1,333.0L1426.2,332.4L1425.4,333.3L1424.5,333.2L1423.7,334.5L1422.8,335.1L1422.0,336.1L1421.1,337.2L1420.3,334.6L1419.4,334.9L1418.6,334.9L1417.7,334.2L1416.9,333.3L1416.0,332.2L1415.2,332.3L1414.3,332.7L1413.5,333.0L1412.6,332.6L1411.8,332.8L1410.9,332.8L1410.1,333.2L1409.2,333.2L1408.4,334.6L1407.5,334.4L1406.7,335.5L1405.8,336.1L1405.0,335.5L1404.1,337.3L1403.3,335.8L1402.4,336.0L1401.6,338.0L1400.7,336.5L1399.9,338.6L1399.0,339.1L1398.2,338.1L1397.3,338.3L1396.5,340.4L1395.6,338.6L1394.8,339.7L1393.9,341.2L1393.1,340.7L1392.2,338.9L1391.4,340.3L1390.5,339.6L1389.7,338.5L1388.8,337.4L1388.0,337.8L1387.1,336.5L1386.3,335.0L1385.4,333.8Z" fill="#5DAA7C" stroke="#5DAA7C" stroke-width="0.5"/>
<path d="M1584.5,331.9L1585.4,332.9L1586.2,331.8L1587.1,334.4L1587.9,335.2L1588.8,333.9L1589.6,334.6L1590.5,335.1L1591.3,334.5L1592.2,334.9L1593.0,335.1L1593.9,333.8L1594.7,333.4L1595.6,333.1L1596.4,333.3L1597.3,333.5L1598.1,333.6L1599.0,331.6L1599.8,329.7L1600.7,330.9L1601.5,329.8L1602.4,328.7L1603.2,329.3L1604.1,327.4L1604.9,327.9L1605.8,326.1L1606.6,322.4L1607.5,325.0L1608.3,325.0L1609.2,325.6L1610.0,324.8L1610.9,325.3L1611.7,323.0L1612.6,324.4L1613.4,323.9L1614.3,323.8L1615.1,324.1L1616.0,321.9L1616.8,323.4L1617.7,326.0L1618.5,328.6L1619.4,328.2L1620.2,332.1L1621.1,332.9L1621.9,333.3L1622.8,331.3L1623.6,328.7L1624.5,327.1L1625.3,326.6L1626.2,323.4L1627.0,322.6L1627.9,322.2L1628.7,321.9L1629.6,321.7L1630.4,319.7L1631.3,320.7L1632.1,320.8L1633.0,319.4L1633.8,320.4L1634.7,321.1L1635.5,319.3L1636.4,320.3L1637.2,320.4L1638.1,320.7L1638.9,323.3L1639.8,322.8L1640.6,324.5L1641.5,324.3L1642.3,324.3L1643.2,326.1L1644.0,327.2L1644.9,328.4L1645.7,327.2L1646.6,328.0L1647.4,328.5L1648.3,329.1L1649.1,331.1L1650.0,331.3L1650.8,330.3L1651.7,331.7L1652.5,330.3L1653.4,331.1L1654.2,330.0L1655.1,328.6L1655.9,328.1L1656.8,324.8L1657.6,323.4L1658.5,323.7L1659.3,321.1L1660.2,321.1L1661.0,318.0L1661.9,318.3L1662.7,317.3L1663.6,315.9L1664.4,316.8L1665.3,314.2L1666.1,313.4L1667.0,314.1L1667.8,313.1L1668.7,313.1L1669.5,312.9L1670.4,312.1L1671.2,312.1L1672.1,313.8L1672.9,311.9L1673.8,313.4L1674.6,313.3L1675.5,312.8L1676.3,313.1L1677.2,313.3L1678.0,310.9L1678.9,312.3L1679.7,312.2L1680.6,310.5L1681.4,311.3L1682.3,309.8L1683.1,309.0L1684.0,310.8L1684.8,310.2L1685.7,308.3L1686.5,308.9L1687.4,308.2L1688.2,309.0L1689.1,308.9L1689.9,307.9L1690.8,309.2L1691.6,308.1L1692.5,307.7L1693.3,307.9L1694.2,307.0L1695.0,306.3L1695.9,304.6L1696.7,303.5L1697.6,303.3L1698.4,303.2L1699.3,303.3L1700.1,302.9L1701.0,304.1L1701.8,301.7L1702.7,301.2L1703.5,301.0L1704.4,300.6L1705.2,300.9L1706.1,301.1L1706.9,300.4L1707.8,300.6L1708.6,299.0L1709.5,300.4L1710.3,299.2L1711.2,298.7L1712.0,298.9L1712.9,297.7L1713.7,299.1L1714.6,299.7L1715.4,297.9L1716.3,298.1L1717.1,298.8L1718.0,299.3L1718.8,298.6L1719.7,298.9L1720.5,300.7L1721.4,298.8L1722.2,301.3L1723.1,301.6L1723.9,300.4L1724.8,302.1L1725.6,300.0L1726.5,300.5L1727.3,301.9L1728.2,300.6L1729.0,302.9L1729.9,303.8L1730.7,304.8L1731.6,306.4L1732.4,308.4L1733.3,308.7L1734.1,309.8L1735.0,311.5L1735.8,314.8L1736.7,315.2L1737.5,315.7L1738.4,318.5L1739.2,318.4L1740.1,319.9L1740.9,319.1L1741.8,317.5L1742.6,320.9L1743.5,323.1L1744.3,322.6L1745.2,322.8L1746.0,323.8L1746.9,322.3L1747.7,323.3L1748.6,322.3L1749.4,322.5L1750.3,318.0L1751.1,322.0L1752.0,321.8L1752.8,321.4L1753.7,321.9L1754.5,322.0L1755.4,323.7L1756.2,323.6L1757.1,326.0L1757.9,324.2L1758.8,325.5L1759.6,325.0L1760.5,325.4L1761.3,326.8L1762.2,325.4L1763.0,327.0L1763.9,325.6L1764.7,327.9L1765.6,325.9L1766.4,327.9L1767.3,327.5L1768.1,326.3L1768.1,330.5L1767.3,332.0L1766.4,330.9L1765.6,329.9L1764.7,330.9L1763.9,330.2L1763.0,331.1L1762.2,329.8L1761.3,329.3L1760.5,330.6L1759.6,329.1L1758.8,328.8L1757.9,328.8L1757.1,330.2L1756.2,327.9L1755.4,328.1L1754.5,326.6L1753.7,326.6L1752.8,325.1L1752.0,325.3L1751.1,324.2L1750.3,326.1L1749.4,326.2L1748.6,327.7L1747.7,327.1L1746.9,326.9L1746.0,325.9L1745.2,326.5L1744.3,325.7L1743.5,325.7L1742.6,326.8L1741.8,324.4L1740.9,323.6L1740.1,323.3L1739.2,322.1L1738.4,321.2L1737.5,321.4L1736.7,319.2L1735.8,318.0L1735.0,315.6L1734.1,315.5L1733.3,314.6L1732.4,313.0L1731.6,311.5L1730.7,309.8L1729.9,306.1L1729.0,308.2L1728.2,304.8L1727.3,305.8L1726.5,304.6L1725.6,304.6L1724.8,304.9L1723.9,306.0L1723.1,304.0L1722.2,305.6L1721.4,303.1L1720.5,303.1L1719.7,302.8L1718.8,304.0L1718.0,303.6L1717.1,306.2L1716.3,303.5L1715.4,303.6L1714.6,302.5L1713.7,302.5L1712.9,303.6L1712.0,302.2L1711.2,304.8L1710.3,302.1L1709.5,304.8L1708.6,304.9L1707.8,303.4L1706.9,304.7L1706.1,303.9L1705.2,305.4L1704.4,306.1L1703.5,307.1L1702.7,306.7L1701.8,307.2L1701.0,307.5L1700.1,308.5L1699.3,308.9L1698.4,308.4L1697.6,308.3L1696.7,309.5L1695.9,308.6L1695.0,310.0L1694.2,311.2L1693.3,312.8L1692.5,311.2L1691.6,312.5L1690.8,313.5L1689.9,312.9L1689.1,313.2L1688.2,313.9L1687.4,314.5L1686.5,314.2L1685.7,313.2L1684.8,312.9L1684.0,313.1L1683.1,313.8L1682.3,315.2L1681.4,316.2L1680.6,314.5L1679.7,316.8L1678.9,315.0L1678.0,317.4L1677.2,315.6L1676.3,318.1L1675.5,317.6L1674.6,316.0L1673.8,318.1L1672.9,318.3L1672.1,316.9L1671.2,317.8L1670.4,317.1L1669.5,318.3L1668.7,318.1L1667.8,319.1L1667.0,318.5L1666.1,317.9L1665.3,320.0L1664.4,318.6L1663.6,320.0L1662.7,322.3L1661.9,322.4L1661.0,322.9L1660.2,325.2L1659.3,324.8L1658.5,327.7L1657.6,328.6L1656.8,329.5L1655.9,332.8L1655.1,333.5L1654.2,334.5L1653.4,333.6L1652.5,335.0L1651.7,334.1L1650.8,335.7L1650.0,334.6L1649.1,335.4L1648.3,333.9L1647.4,332.9L1646.6,333.8L1645.7,332.4L1644.9,330.6L1644.0,330.7L1643.2,330.7L1642.3,328.2L1641.5,327.3L1640.6,327.4L1639.8,327.9L1638.9,325.1L1638.1,325.5L1637.2,324.6L1636.4,325.6L1635.5,325.0L1634.7,325.0L1633.8,322.6L1633.0,324.4L1632.1,323.0L1631.3,325.2L1630.4,323.2L1629.6,326.0L1628.7,326.6L1627.9,326.8L1627.0,327.9L1626.2,328.3L1625.3,331.0L1624.5,331.9L1623.6,334.3L1622.8,336.9L1621.9,335.5L1621.1,335.7L1620.2,334.5L1619.4,334.2L1618.5,331.4L1617.7,329.5L1616.8,328.1L1616.0,326.4L1615.1,327.1L1614.3,327.6L1613.4,326.2L1612.6,328.8L1611.7,327.6L1610.9,327.1L1610.0,329.8L1609.2,328.9L1608.3,330.3L1607.5,329.6L1606.6,331.5L1605.8,331.8L1604.9,331.2L1604.1,331.2L1603.2,331.7L1602.4,334.0L1601.5,334.3L1600.7,334.7L1599.8,334.4L1599.0,335.8L1598.1,336.9L1597.3,338.0L1596.4,337.6L1595.6,338.2L1594.7,338.8L1593.9,339.1L1593.0,338.2L1592.2,339.5L1591.3,338.6L1590.5,340.2L1589.6,338.7L1588.8,340.0L1587.9,337.6L1587.1,338.0L1586.2,337.8L1585.4,335.1L1584.5,334.4Z" fill="#5DAA7C" stroke="#5DAA7C" stroke-width="0.5"/>
<path d="M947.8,588.5L948.6,587.6L949.5,591.4L950.3,589.3L951.2,590.4L952.0,590.3L952.9,591.8L953.7,592.6L954.6,591.3L955.4,593.4L956.3,593.8L957.1,592.8L958.0,593.2L958.8,595.0L959.7,595.6L960.5,593.6L961.4,594.3L962.2,593.2L963.1,591.8L963.9,593.8L964.8,593.2L965.6,585.2L966.5,591.4L967.3,588.1L968.2,589.2L969.0,587.9L969.9,590.1L970.7,588.6L971.6,588.2L972.4,588.0L973.3,588.8L974.1,585.3L975.0,587.6L975.8,586.3L976.7,582.8L977.5,589.7L978.4,588.3L979.2,589.5L980.1,590.5L980.9,588.8L981.8,590.5L982.6,591.7L983.5,591.9L984.3,591.4L985.2,593.9L986.0,591.3L986.9,591.9L987.7,592.1L988.6,593.8L989.4,592.0L990.3,589.2L991.1,591.2L992.0,590.7L992.8,590.1L993.7,590.7L994.5,589.0L995.4,589.4L996.2,588.1L997.1,588.7L997.9,590.8L998.8,589.1L999.6,588.8L1000.5,591.8L1001.3,589.6L1002.2,589.8L1003.0,591.6L1003.9,591.5L1004.7,592.6L1005.6,590.0L1006.4,587.5L1007.3,587.2L1008.1,581.4L1009.0,578.5L1009.8,572.6L1010.7,568.2L1011.5,565.5L1012.4,556.4L1013.2,548.9L1014.1,548.3L1014.9,543.8L1015.8,543.6L1016.6,540.7L1017.5,538.0L1018.3,536.7L1019.2,533.2L1020.0,533.7L1020.9,532.4L1021.7,529.7L1022.6,530.6L1023.4,529.7L1024.3,525.9L1025.1,527.0L1026.0,525.2L1026.8,526.1L1027.7,525.4L1028.5,524.5L1029.4,525.0L1030.2,521.1L1031.1,523.8L1031.9,521.1L1032.8,520.9L1033.6,520.7L1034.5,520.5L1035.3,519.5L1036.2,517.1L1037.0,518.0L1037.9,519.0L1038.7,518.9L1039.6,515.7L1040.4,514.5L1041.3,515.4L1042.1,516.9L1043.0,516.5L1043.8,511.2L1044.7,516.1L1045.5,513.3L1046.4,514.1L1047.2,513.7L1048.1,515.0L1048.9,512.6L1049.8,512.6L1050.6,512.4L1051.5,512.2L1052.3,512.4L1053.2,510.8L1054.0,510.7L1054.9,510.6L1055.7,510.8L1056.6,504.9L1057.4,509.5L1058.3,508.3L1059.1,511.3L1060.0,510.8L1060.8,510.3L1061.7,508.4L1062.5,509.8L1063.4,509.2L1064.2,507.1L1065.1,508.0L1065.9,511.4L1066.8,509.1L1067.6,511.1L1068.5,510.1L1069.3,511.0L1070.2,511.0L1071.0,509.8L1071.9,510.3L1072.7,509.2L1073.6,511.4L1074.4,509.4L1075.3,511.2L1076.1,511.7L1077.0,510.6L1077.8,510.9L1078.7,511.4L1079.5,508.4L1080.4,508.2L1081.2,511.6L1082.1,509.8L1082.9,511.3L1083.8,508.0L1084.6,505.8L1085.5,510.1L1086.3,509.3L1087.2,510.8L1088.0,508.9L1088.9,505.1L1089.7,508.7L1090.6,508.0L1091.4,509.0L1092.3,510.2L1093.1,507.7L1094.0,510.0L1094.8,510.2L1095.7,509.5L1096.5,510.2L1097.4,508.9L1098.2,509.1L1099.1,506.9L1099.9,508.1L1100.8,507.7L1101.6,507.6L1102.5,505.1L1103.3,507.7L1104.2,510.1L1105.0,508.9L1105.9,508.0L1106.7,503.4L1107.6,507.7L1108.4,509.8L1109.3,507.0L1110.1,509.4L1111.0,509.0L1111.8,507.2L1112.7,508.5L1113.5,509.2L1114.4,510.7L1115.2,507.6L1116.1,509.9L1116.9,509.7L1117.8,509.8L1118.6,508.0L1119.5,509.7L1120.3,509.4L1121.2,511.0L1122.0,510.6L1122.9,508.9L1123.7,505.3L1124.6,510.9L1125.4,511.5L1126.3,509.9L1127.1,508.1L1128.0,509.2L1128.8,508.9L1129.7,509.4L1129.7,516.4L1128.8,515.8L1128.0,516.9L1127.1,517.4L1126.3,516.9L1125.4,515.3L1124.6,515.6L1123.7,515.5L1122.9,517.2L1122.0,516.9L1121.2,516.6L1120.3,513.9L1119.5,514.3L1118.6,516.9L1117.8,514.5L1116.9,516.4L1116.1,514.2L1115.2,514.9L1114.4,515.6L1113.5,513.5L1112.7,513.7L1111.8,515.2L1111.0,514.8L1110.1,516.6L1109.3,516.0L1108.4,515.7L1107.6,513.3L1106.7,514.1L1105.9,513.7L1105.0,516.1L1104.2,513.0L1103.3,518.6L1102.5,513.2L1101.6,513.8L1100.8,516.4L1099.9,514.4L1099.1,515.3L1098.2,515.7L1097.4,513.2L1096.5,513.6L1095.7,513.2L1094.8,514.6L1094.0,513.4L1093.1,516.2L1092.3,514.3L1091.4,516.3L1090.6,516.7L1089.7,514.8L1088.9,514.2L1088.0,517.0L1087.2,514.8L1086.3,515.2L1085.5,518.5L1084.6,515.4L1083.8,514.2L1082.9,517.5L1082.1,515.6L1081.2,516.4L1080.4,519.8L1079.5,516.9L1078.7,515.4L1077.8,517.3L1077.0,515.7L1076.1,516.0L1075.3,514.6L1074.4,517.2L1073.6,516.9L1072.7,516.1L1071.9,517.8L1071.0,514.3L1070.2,515.2L1069.3,515.0L1068.5,515.5L1067.6,514.5L1066.8,515.5L1065.9,515.7L1065.1,515.7L1064.2,514.3L1063.4,516.1L1062.5,517.2L1061.7,516.5L1060.8,515.6L1060.0,515.5L1059.1,516.7L1058.3,517.0L1057.4,515.5L1056.6,517.6L1055.7,516.3L1054.9,516.3L1054.0,516.1L1053.2,518.5L1052.3,519.2L1051.5,517.2L1050.6,517.9L1049.8,519.6L1048.9,519.4L1048.1,520.4L1047.2,521.6L1046.4,519.5L1045.5,521.9L1044.7,519.1L1043.8,521.6L1043.0,521.9L1042.1,521.1L1041.3,524.0L1040.4,525.6L1039.6,528.3L1038.7,522.5L1037.9,524.3L1037.0,524.5L1036.2,523.6L1035.3,524.7L1034.5,530.4L1033.6,527.9L1032.8,528.7L1031.9,528.5L1031.1,529.4L1030.2,530.4L1029.4,528.6L1028.5,531.2L1027.7,531.0L1026.8,531.8L1026.0,530.9L1025.1,533.7L1024.3,533.3L1023.4,534.1L1022.6,537.7L1021.7,535.4L1020.9,537.7L1020.0,538.4L1019.2,541.3L1018.3,542.6L1017.5,543.8L1016.6,548.3L1015.8,548.0L1014.9,551.1L1014.1,553.7L1013.2,560.9L1012.4,566.2L1011.5,570.9L1010.7,576.3L1009.8,581.9L1009.0,584.4L1008.1,591.5L1007.3,592.3L1006.4,593.4L1005.6,597.1L1004.7,597.1L1003.9,596.0L1003.0,595.2L1002.2,594.9L1001.3,595.4L1000.5,595.0L999.6,596.7L998.8,595.7L997.9,596.9L997.1,596.5L996.2,597.3L995.4,595.9L994.5,597.8L993.7,597.7L992.8,597.9L992.0,598.7L991.1,598.0L990.3,598.9L989.4,598.3L988.6,599.2L987.7,598.8L986.9,600.0L986.0,598.5L985.2,597.8L984.3,598.2L983.5,599.6L982.6,596.9L981.8,597.6L980.9,598.2L980.1,595.8L979.2,594.2L978.4,596.2L977.5,595.5L976.7,595.8L975.8,593.7L975.0,592.6L974.1,597.3L973.3,592.1L972.4,592.9L971.6,595.5L970.7,594.7L969.9,596.4L969.0,596.3L968.2,596.7L967.3,595.5L966.5,597.5L965.6,595.2L964.8,598.7L963.9,599.2L963.1,597.2L962.2,598.8L961.4,599.2L960.5,598.5L959.7,598.9L958.8,600.0L958.0,602.0L957.1,598.7L956.3,601.0L955.4,600.5L954.6,601.0L953.7,598.7L952.9,598.8L952.0,595.0L951.2,595.6L950.3,597.7L949.5,595.7L948.6,596.5L947.8,596.1Z" fill="#2A8A4B" stroke="#2A8A4B" stroke-width="0.6"/>
<path d="M1142.4,581.9L1143.3,583.8L1144.1,583.0L1145.0,581.8L1145.8,581.9L1146.7,582.0L1147.5,581.5L1148.4,581.9L1149.2,584.1L1150.1,582.7L1150.9,582.0L1151.8,582.1L1152.6,582.9L1153.5,582.3L1154.3,578.1L1155.2,583.2L1156.0,581.0L1156.9,581.9L1157.7,582.6L1158.6,581.2L1159.4,583.2L1160.3,583.4L1161.1,577.9L1162.0,583.2L1162.8,581.0L1163.7,581.4L1164.5,581.8L1165.4,582.2L1166.2,582.1L1167.1,578.8L1167.9,583.6L1168.8,581.5L1169.6,581.7L1170.5,583.3L1171.3,583.7L1172.2,583.9L1173.0,581.7L1173.9,584.0L1174.7,582.2L1175.6,578.5L1176.4,585.0L1177.3,578.1L1178.1,583.2L1179.0,582.6L1179.8,585.5L1180.7,583.6L1181.5,583.8L1182.4,583.9L1183.2,584.2L1184.1,583.6L1184.9,583.6L1185.8,585.6L1186.6,587.1L1187.5,586.3L1188.3,587.4L1189.2,587.8L1190.0,586.0L1190.9,582.5L1191.7,584.2L1192.6,589.5L1193.4,586.2L1194.3,589.5L1195.1,587.7L1196.0,589.5L1196.8,589.6L1197.7,588.7L1198.5,588.2L1199.4,587.5L1200.2,589.0L1201.1,587.5L1201.9,589.0L1202.8,588.1L1203.6,587.9L1204.5,587.7L1205.3,587.7L1206.2,583.4L1207.0,589.2L1207.9,587.0L1208.7,583.1L1209.6,579.3L1210.4,577.0L1211.3,573.8L1212.1,569.0L1213.0,566.5L1213.8,563.6L1214.7,562.0L1215.5,556.7L1216.4,555.8L1217.2,550.6L1218.1,549.3L1218.9,550.2L1219.8,545.1L1220.6,543.5L1221.5,541.5L1222.3,541.2L1223.2,542.1L1224.0,541.3L1224.9,538.7L1225.7,538.1L1226.6,535.6L1227.4,535.0L1228.3,534.1L1229.1,534.2L1230.0,533.7L1230.8,533.2L1231.7,533.8L1232.5,530.6L1233.4,532.8L1234.2,531.5L1235.1,532.1L1235.9,528.4L1236.8,531.0L1237.6,529.1L1238.5,527.7L1239.3,526.5L1240.2,526.5L1241.0,529.1L1241.9,526.7L1242.7,526.7L1243.6,525.3L1244.4,525.4L1245.3,526.9L1246.1,526.5L1247.0,523.6L1247.8,526.1L1248.7,523.1L1249.5,522.1L1250.4,524.4L1251.2,525.0L1252.1,524.6L1252.9,523.1L1253.8,521.0L1254.6,523.3L1255.5,522.1L1256.3,520.1L1257.2,522.9L1258.0,516.1L1258.9,519.3L1259.7,520.3L1260.6,520.3L1261.4,519.6L1262.3,520.8L1263.1,518.3L1264.0,518.4L1264.8,519.8L1265.7,518.5L1266.5,516.1L1267.4,516.9L1268.2,517.5L1269.1,515.2L1269.9,516.4L1270.8,518.0L1271.6,515.8L1272.5,515.6L1273.3,515.4L1274.2,516.7L1275.0,516.0L1275.9,515.4L1276.7,516.3L1277.6,511.6L1278.4,515.1L1279.3,517.0L1280.1,515.4L1281.0,514.0L1281.8,514.7L1282.7,509.3L1283.5,515.8L1284.4,513.0L1285.2,513.2L1286.1,511.4L1286.9,510.8L1287.8,514.5L1288.6,514.3L1289.5,515.5L1290.3,513.7L1291.2,515.0L1292.0,514.2L1292.9,513.1L1293.7,515.1L1294.6,514.2L1295.4,514.8L1296.3,515.3L1297.1,515.4L1298.0,514.6L1298.8,515.1L1299.7,516.4L1300.5,515.3L1301.4,513.3L1302.2,514.8L1303.1,514.8L1303.9,515.3L1304.8,512.7L1305.6,516.0L1306.5,515.3L1307.3,513.7L1308.2,514.4L1309.0,515.0L1309.9,514.1L1310.7,517.1L1311.6,515.1L1312.4,515.4L1313.3,516.7L1314.1,513.4L1315.0,515.6L1315.8,514.5L1316.7,513.8L1317.5,516.1L1318.4,513.3L1319.2,516.7L1320.1,516.4L1320.9,514.2L1321.8,516.3L1322.6,515.4L1323.5,510.7L1324.3,510.8L1325.2,515.9L1326.0,514.5L1326.9,514.8L1327.7,513.5L1328.6,514.2L1329.4,515.7L1329.4,520.4L1328.6,520.0L1327.7,522.6L1326.9,520.9L1326.0,521.7L1325.2,520.0L1324.3,521.5L1323.5,522.1L1322.6,521.7L1321.8,521.4L1320.9,520.0L1320.1,519.6L1319.2,522.7L1318.4,521.8L1317.5,523.0L1316.7,521.5L1315.8,520.5L1315.0,520.9L1314.1,521.1L1313.3,519.8L1312.4,520.5L1311.6,521.6L1310.7,519.9L1309.9,524.0L1309.0,521.4L1308.2,521.2L1307.3,522.9L1306.5,523.0L1305.6,522.3L1304.8,521.6L1303.9,521.1L1303.1,522.8L1302.2,521.5L1301.4,519.7L1300.5,520.8L1299.7,521.7L1298.8,519.8L1298.0,520.5L1297.1,522.8L1296.3,520.6L1295.4,520.2L1294.6,522.6L1293.7,521.3L1292.9,521.8L1292.0,521.2L1291.2,521.0L1290.3,519.3L1289.5,519.4L1288.6,519.9L1287.8,521.3L1286.9,519.0L1286.1,520.5L1285.2,519.2L1284.4,522.2L1283.5,521.8L1282.7,519.0L1281.8,521.8L1281.0,522.0L1280.1,521.6L1279.3,520.5L1278.4,520.3L1277.6,521.7L1276.7,522.3L1275.9,523.4L1275.0,521.5L1274.2,523.9L1273.3,523.6L1272.5,524.2L1271.6,523.0L1270.8,522.5L1269.9,522.4L1269.1,522.0L1268.2,522.1L1267.4,522.0L1266.5,522.7L1265.7,528.5L1264.8,522.5L1264.0,524.8L1263.1,523.1L1262.3,526.3L1261.4,527.5L1260.6,526.2L1259.7,525.5L1258.9,528.6L1258.0,527.0L1257.2,529.2L1256.3,526.2L1255.5,526.2L1254.6,528.9L1253.8,528.1L1252.9,529.4L1252.1,528.4L1251.2,531.4L1250.4,528.0L1249.5,530.7L1248.7,530.8L1247.8,531.3L1247.0,532.2L1246.1,530.4L1245.3,532.8L1244.4,530.9L1243.6,531.1L1242.7,531.6L1241.9,534.3L1241.0,532.4L1240.2,534.8L1239.3,535.9L1238.5,535.0L1237.6,537.2L1236.8,537.5L1235.9,534.8L1235.1,537.3L1234.2,535.4L1233.4,537.3L1232.5,537.7L1231.7,540.4L1230.8,540.7L1230.0,540.8L1229.1,540.7L1228.3,541.6L1227.4,542.7L1226.6,542.2L1225.7,543.5L1224.9,545.6L1224.0,548.2L1223.2,546.2L1222.3,547.2L1221.5,548.7L1220.6,551.3L1219.8,551.3L1218.9,554.2L1218.1,555.1L1217.2,559.6L1216.4,562.3L1215.5,563.0L1214.7,568.5L1213.8,569.6L1213.0,574.4L1212.1,575.4L1211.3,579.3L1210.4,585.5L1209.6,586.4L1208.7,589.4L1207.9,591.0L1207.0,594.8L1206.2,594.1L1205.3,596.4L1204.5,595.7L1203.6,595.0L1202.8,593.8L1201.9,593.4L1201.1,595.1L1200.2,593.3L1199.4,595.6L1198.5,593.1L1197.7,592.8L1196.8,594.3L1196.0,592.6L1195.1,594.1L1194.3,595.1L1193.4,594.9L1192.6,596.0L1191.7,594.2L1190.9,595.5L1190.0,592.8L1189.2,594.9L1188.3,598.0L1187.5,593.4L1186.6,593.7L1185.8,592.4L1184.9,593.0L1184.1,589.6L1183.2,591.7L1182.4,590.6L1181.5,589.1L1180.7,590.8L1179.8,589.7L1179.0,590.1L1178.1,589.7L1177.3,591.2L1176.4,590.6L1175.6,589.5L1174.7,591.3L1173.9,589.2L1173.0,589.1L1172.2,590.1L1171.3,588.8L1170.5,589.4L1169.6,589.9L1168.8,588.5L1167.9,588.5L1167.1,588.1L1166.2,588.4L1165.4,588.9L1164.5,589.3L1163.7,589.0L1162.8,590.6L1162.0,590.9L1161.1,590.9L1160.3,588.5L1159.4,590.4L1158.6,591.2L1157.7,587.4L1156.9,588.1L1156.0,588.8L1155.2,589.1L1154.3,590.5L1153.5,589.2L1152.6,590.3L1151.8,587.6L1150.9,588.0L1150.1,587.3L1149.2,590.0L1148.4,590.2L1147.5,588.1L1146.7,587.8L1145.8,588.7L1145.0,588.3L1144.1,590.2L1143.3,587.4L1142.4,590.5Z" fill="#2A8A4B" stroke="#2A8A4B" stroke-width="0.6"/>
<path d="M1385.7,581.7L1386.6,583.2L1387.4,584.1L1388.3,584.0L1389.1,584.8L1390.0,586.1L1390.8,585.8L1391.7,587.8L1392.5,588.1L1393.4,586.8L1394.2,587.7L1395.1,589.6L1395.9,588.3L1396.8,588.8L1397.6,588.5L1398.5,589.2L1399.3,588.9L1400.2,590.6L1401.0,590.6L1401.9,589.3L1402.7,588.7L1403.6,589.3L1404.4,588.4L1405.3,588.5L1406.1,588.0L1407.0,588.2L1407.8,587.9L1408.7,586.6L1409.5,585.6L1410.4,582.7L1411.2,582.7L1412.1,581.1L1412.9,581.6L1413.8,581.4L1414.6,580.4L1415.5,579.7L1416.3,578.9L1417.2,577.7L1418.0,577.6L1418.9,577.4L1419.7,578.6L1420.6,578.3L1421.4,579.9L1422.3,580.8L1423.1,581.1L1424.0,581.4L1424.8,581.3L1425.7,580.2L1426.5,583.1L1427.4,583.2L1428.2,584.4L1429.1,579.8L1429.9,583.2L1430.8,585.0L1431.6,585.0L1432.5,586.3L1433.3,585.1L1434.2,585.8L1435.0,584.6L1435.9,586.7L1436.7,586.4L1437.6,588.2L1438.4,588.9L1439.3,587.2L1440.1,588.0L1441.0,587.9L1441.8,587.6L1442.7,587.3L1443.5,586.5L1444.4,586.3L1445.2,588.0L1446.1,585.8L1446.9,585.1L1447.8,586.0L1448.6,585.2L1449.5,582.1L1450.3,579.1L1451.2,570.0L1452.0,558.3L1452.9,540.9L1453.7,526.5L1454.6,511.2L1455.4,504.7L1456.3,495.7L1457.1,489.9L1458.0,483.5L1458.8,480.5L1459.7,475.9L1460.5,471.4L1461.4,469.4L1462.2,466.9L1463.1,463.4L1463.9,461.4L1464.8,459.6L1465.6,460.0L1466.5,458.0L1467.3,454.9L1468.2,453.4L1469.0,451.5L1469.9,450.1L1470.7,448.9L1471.6,449.4L1472.4,449.2L1473.3,448.9L1474.1,448.2L1475.0,446.2L1475.8,444.9L1476.7,445.6L1477.5,445.0L1478.4,442.8L1479.2,444.2L1480.1,442.2L1480.9,441.7L1481.8,440.5L1482.6,442.2L1483.5,439.6L1484.3,439.9L1485.2,440.6L1486.0,440.2L1486.9,439.5L1487.7,437.6L1488.6,436.2L1489.4,436.9L1490.3,437.3L1491.1,436.1L1492.0,435.7L1492.8,435.9L1493.7,435.2L1494.5,436.1L1495.4,436.6L1496.2,436.0L1497.1,434.2L1497.9,435.4L1498.8,434.6L1499.6,434.8L1500.5,433.7L1501.3,430.8L1502.2,433.2L1503.0,434.1L1503.9,430.3L1504.7,431.9L1505.6,431.3L1506.4,431.6L1507.3,431.8L1508.1,431.6L1509.0,429.6L1509.8,430.4L1510.7,428.1L1511.5,428.3L1512.4,427.7L1513.2,428.8L1514.1,426.7L1514.9,427.0L1515.8,428.4L1516.6,426.8L1517.5,427.7L1518.3,427.5L1519.2,427.0L1520.0,426.0L1520.9,425.4L1521.7,425.3L1522.6,426.2L1523.4,425.3L1524.3,426.0L1525.1,424.9L1526.0,425.5L1526.8,424.5L1527.7,424.6L1528.5,425.2L1529.4,426.9L1530.2,427.3L1531.1,426.7L1531.9,426.1L1532.8,426.4L1533.6,424.3L1534.5,427.4L1535.3,427.3L1536.2,427.7L1537.0,425.5L1537.9,426.7L1538.7,426.6L1539.6,427.2L1540.4,426.4L1541.3,426.2L1542.1,425.6L1543.0,424.1L1543.8,423.4L1544.7,425.4L1545.5,423.3L1546.4,424.9L1547.2,423.6L1548.1,422.7L1548.9,422.8L1549.8,423.4L1550.6,423.8L1551.5,423.7L1552.3,423.1L1553.2,424.0L1554.0,423.6L1554.9,421.9L1555.7,423.1L1556.6,423.3L1557.4,421.7L1558.3,422.6L1559.1,423.5L1560.0,423.1L1560.8,422.0L1561.7,422.5L1562.5,423.0L1563.4,422.2L1564.2,422.2L1565.1,424.5L1565.9,422.6L1566.8,423.3L1567.6,425.3L1568.5,423.2L1569.3,425.5L1570.2,424.2L1570.2,428.1L1569.3,428.2L1568.5,429.1L1567.6,429.2L1566.8,428.2L1565.9,428.7L1565.1,428.0L1564.2,427.1L1563.4,428.5L1562.5,426.2L1561.7,428.5L1560.8,426.1L1560.0,428.5L1559.1,426.6L1558.3,428.2L1557.4,426.3L1556.6,426.1L1555.7,427.3L1554.9,427.9L1554.0,426.6L1553.2,426.9L1552.3,426.4L1551.5,428.4L1550.6,428.5L1549.8,426.6L1548.9,427.1L1548.1,428.9L1547.2,427.4L1546.4,429.2L1545.5,428.7L1544.7,429.2L1543.8,429.1L1543.0,429.6L1542.1,430.8L1541.3,430.0L1540.4,431.3L1539.6,429.3L1538.7,430.4L1537.9,432.0L1537.0,430.3L1536.2,432.2L1535.3,434.5L1534.5,430.3L1533.6,430.1L1532.8,430.6L1531.9,431.3L1531.1,432.3L1530.2,431.1L1529.4,429.9L1528.5,431.6L1527.7,428.9L1526.8,429.1L1526.0,429.7L1525.1,429.2L1524.3,430.2L1523.4,428.5L1522.6,430.5L1521.7,428.9L1520.9,430.9L1520.0,430.0L1519.2,431.2L1518.3,430.1L1517.5,431.6L1516.6,431.3L1515.8,432.2L1514.9,432.1L1514.1,432.1L1513.2,431.8L1512.4,431.8L1511.5,433.9L1510.7,434.1L1509.8,433.8L1509.0,434.9L1508.1,435.6L1507.3,435.8L1506.4,435.2L1505.6,436.6L1504.7,436.5L1503.9,435.6L1503.0,436.6L1502.2,436.7L1501.3,437.5L1500.5,437.5L1499.6,439.7L1498.8,437.9L1497.9,438.5L1497.1,440.4L1496.2,438.8L1495.4,438.8L1494.5,439.8L1493.7,441.0L1492.8,442.0L1492.0,440.7L1491.1,441.1L1490.3,442.7L1489.4,442.0L1488.6,441.8L1487.7,442.1L1486.9,442.6L1486.0,442.6L1485.2,444.0L1484.3,445.5L1483.5,444.8L1482.6,446.4L1481.8,446.3L1480.9,446.3L1480.1,446.0L1479.2,448.7L1478.4,449.0L1477.5,447.8L1476.7,448.2L1475.8,451.2L1475.0,449.5L1474.1,450.8L1473.3,452.1L1472.4,452.3L1471.6,453.6L1470.7,455.4L1469.9,455.3L1469.0,458.1L1468.2,458.8L1467.3,461.0L1466.5,460.6L1465.6,463.2L1464.8,466.0L1463.9,466.3L1463.1,469.4L1462.2,471.2L1461.4,473.8L1460.5,476.7L1459.7,480.4L1458.8,483.6L1458.0,487.6L1457.1,493.8L1456.3,500.6L1455.4,508.5L1454.6,517.7L1453.7,531.8L1452.9,545.3L1452.0,562.8L1451.2,573.9L1450.3,582.2L1449.5,588.3L1448.6,590.8L1447.8,593.4L1446.9,591.1L1446.1,590.1L1445.2,590.5L1444.4,592.4L1443.5,591.8L1442.7,591.9L1441.8,592.5L1441.0,593.7L1440.1,593.5L1439.3,593.5L1438.4,591.7L1437.6,591.5L1436.7,593.2L1435.9,592.7L1435.0,589.9L1434.2,590.0L1433.3,591.1L1432.5,590.7L1431.6,590.2L1430.8,588.2L1429.9,589.0L1429.1,588.1L1428.2,588.6L1427.4,587.8L1426.5,585.3L1425.7,585.8L1424.8,584.4L1424.0,584.2L1423.1,587.3L1422.3,582.6L1421.4,582.6L1420.6,581.9L1419.7,582.4L1418.9,583.4L1418.0,581.2L1417.2,582.6L1416.3,583.0L1415.5,582.1L1414.6,584.0L1413.8,583.9L1412.9,586.6L1412.1,585.8L1411.2,588.2L1410.4,586.9L1409.5,588.3L1408.7,588.8L1407.8,590.9L1407.0,591.6L1406.1,594.0L1405.3,592.1L1404.4,594.8L1403.6,594.1L1402.7,593.5L1401.9,594.7L1401.0,594.0L1400.2,593.8L1399.3,593.3L1398.5,593.8L1397.6,594.1L1396.8,593.3L1395.9,592.9L1395.1,591.7L1394.2,592.1L1393.4,591.1L1392.5,590.5L1391.7,591.9L1390.8,590.1L1390.0,590.0L1389.1,589.8L1388.3,587.0L1387.4,587.3L1386.6,586.5L1385.7,584.7Z" fill="#5DAA7C" stroke="#5DAA7C" stroke-width="0.5"/>
<path d="M1580.9,578.0L1581.7,577.2L1582.6,576.8L1583.4,578.6L1584.3,579.7L1585.1,580.1L1586.0,580.0L1586.8,581.3L1587.7,581.9L1588.5,581.0L1589.4,582.1L1590.2,582.6L1591.1,582.3L1591.9,582.8L1592.8,583.3L1593.6,583.4L1594.5,585.4L1595.3,582.9L1596.2,584.6L1597.0,583.4L1597.9,582.9L1598.7,583.2L1599.6,582.7L1600.4,580.8L1601.3,581.5L1602.1,579.7L1603.0,581.0L1603.8,580.4L1604.7,580.3L1605.5,579.4L1606.4,580.0L1607.2,578.8L1608.1,578.9L1608.9,580.2L1609.8,579.7L1610.6,580.1L1611.5,579.1L1612.3,579.8L1613.2,581.7L1614.0,582.4L1614.9,581.8L1615.7,581.9L1616.6,582.6L1617.4,582.9L1618.3,583.9L1619.1,584.6L1620.0,583.7L1620.8,584.7L1621.7,584.4L1622.5,586.5L1623.4,585.9L1624.2,586.8L1625.1,589.1L1625.9,588.1L1626.8,589.3L1627.6,589.9L1628.5,590.8L1629.3,591.2L1630.2,593.5L1631.0,592.7L1631.9,592.2L1632.7,593.0L1633.6,591.4L1634.4,591.0L1635.3,591.9L1636.1,590.8L1637.0,590.1L1637.8,589.3L1638.7,587.8L1639.5,587.9L1640.4,587.1L1641.2,587.0L1642.1,585.6L1642.9,585.2L1643.8,582.9L1644.6,573.9L1645.5,562.9L1646.3,551.2L1647.2,536.6L1648.0,524.2L1648.9,514.3L1649.7,504.4L1650.6,494.5L1651.4,488.7L1652.3,481.9L1653.1,478.8L1654.0,475.9L1654.8,471.3L1655.7,469.9L1656.5,467.4L1657.4,464.2L1658.2,464.1L1659.1,461.2L1659.9,459.9L1660.8,457.1L1661.6,455.3L1662.5,454.7L1663.3,452.9L1664.2,451.4L1665.0,449.9L1665.9,447.4L1666.7,447.2L1667.6,445.6L1668.4,446.1L1669.3,444.4L1670.1,444.0L1671.0,443.2L1671.8,440.6L1672.7,440.2L1673.5,442.3L1674.4,439.5L1675.2,440.1L1676.1,441.0L1676.9,440.3L1677.8,439.4L1678.6,438.8L1679.5,440.2L1680.3,439.0L1681.2,438.2L1682.0,438.0L1682.9,438.1L1683.7,439.8L1684.6,440.1L1685.4,440.8L1686.3,442.6L1687.1,443.3L1688.0,445.2L1688.8,444.3L1689.7,445.5L1690.5,447.4L1691.4,446.7L1692.2,446.5L1693.1,447.9L1693.9,447.4L1694.8,449.9L1695.6,448.8L1696.5,448.4L1697.3,449.1L1698.2,448.3L1699.0,448.9L1699.9,448.6L1700.7,448.4L1701.6,445.8L1702.4,444.8L1703.3,444.0L1704.1,442.7L1705.0,441.4L1705.8,440.5L1706.7,440.6L1707.5,439.4L1708.4,437.4L1709.2,435.5L1710.1,435.7L1710.9,434.4L1711.8,434.5L1712.6,433.9L1713.5,433.1L1714.3,433.0L1715.2,430.9L1716.0,431.0L1716.9,430.8L1717.7,431.6L1718.6,431.2L1719.4,431.8L1720.3,432.8L1721.1,432.8L1722.0,431.9L1722.8,434.0L1723.7,433.6L1724.5,433.0L1725.4,431.9L1726.2,431.3L1727.1,431.5L1727.9,431.5L1728.8,431.7L1729.6,431.7L1730.5,432.7L1731.3,431.3L1732.2,431.9L1733.0,432.6L1733.9,432.2L1734.7,433.4L1735.6,434.6L1736.4,434.1L1737.3,434.7L1738.1,435.5L1739.0,437.5L1739.8,438.3L1740.7,437.8L1741.5,440.4L1742.4,439.8L1743.2,440.6L1744.1,442.1L1744.9,441.4L1745.8,443.3L1746.6,442.8L1747.5,442.4L1748.3,442.2L1749.2,443.8L1750.0,443.0L1750.9,441.1L1751.7,443.1L1752.6,441.8L1753.4,440.9L1754.3,441.3L1755.1,440.2L1756.0,439.3L1756.8,440.7L1757.7,440.1L1758.5,440.1L1759.4,439.2L1760.2,438.7L1761.1,439.5L1761.9,439.7L1762.8,438.8L1763.6,438.9L1764.5,440.1L1765.3,439.8L1766.2,438.9L1767.0,437.9L1767.9,436.8L1767.9,443.4L1767.0,442.3L1766.2,443.9L1765.3,442.1L1764.5,442.1L1763.6,443.6L1762.8,442.5L1761.9,444.5L1761.1,444.3L1760.2,444.3L1759.4,443.7L1758.5,444.3L1757.7,443.8L1756.8,445.6L1756.0,443.7L1755.1,445.9L1754.3,444.4L1753.4,446.4L1752.6,446.6L1751.7,447.2L1750.9,445.6L1750.0,447.0L1749.2,446.2L1748.3,446.8L1747.5,447.7L1746.6,446.8L1745.8,445.4L1744.9,444.9L1744.1,444.6L1743.2,444.5L1742.4,444.4L1741.5,443.1L1740.7,442.5L1739.8,441.8L1739.0,440.0L1738.1,440.6L1737.3,438.8L1736.4,439.5L1735.6,439.4L1734.7,438.3L1733.9,438.3L1733.0,436.0L1732.2,437.6L1731.3,437.3L1730.5,437.1L1729.6,436.8L1728.8,435.9L1727.9,436.8L1727.1,437.5L1726.2,436.7L1725.4,437.4L1724.5,436.4L1723.7,437.2L1722.8,437.9L1722.0,437.0L1721.1,437.7L1720.3,436.8L1719.4,438.0L1718.6,437.8L1717.7,436.2L1716.9,436.5L1716.0,435.0L1715.2,437.3L1714.3,435.7L1713.5,436.7L1712.6,437.9L1711.8,438.8L1710.9,438.1L1710.1,439.3L1709.2,441.4L1708.4,443.3L1707.5,443.4L1706.7,444.9L1705.8,445.5L1705.0,447.0L1704.1,448.1L1703.3,448.4L1702.4,449.1L1701.6,450.0L1700.7,450.4L1699.9,452.8L1699.0,453.1L1698.2,454.3L1697.3,452.4L1696.5,454.5L1695.6,453.1L1694.8,454.2L1693.9,452.5L1693.1,454.7L1692.2,452.7L1691.4,450.8L1690.5,450.0L1689.7,449.6L1688.8,450.1L1688.0,449.5L1687.1,448.4L1686.3,446.7L1685.4,445.4L1684.6,444.4L1683.7,444.3L1682.9,442.8L1682.0,443.2L1681.2,443.7L1680.3,443.2L1679.5,442.6L1678.6,444.7L1677.8,442.8L1676.9,445.2L1676.1,444.3L1675.2,444.8L1674.4,444.8L1673.5,445.7L1672.7,444.8L1671.8,446.0L1671.0,447.0L1670.1,448.0L1669.3,448.8L1668.4,448.9L1667.6,449.4L1666.7,452.3L1665.9,452.3L1665.0,455.5L1664.2,454.8L1663.3,456.8L1662.5,458.7L1661.6,461.3L1660.8,462.8L1659.9,464.7L1659.1,465.1L1658.2,467.8L1657.4,470.9L1656.5,471.9L1655.7,474.8L1654.8,477.2L1654.0,478.0L1653.1,481.8L1652.3,485.9L1651.4,492.1L1650.6,499.1L1649.7,508.3L1648.9,517.6L1648.0,529.9L1647.2,541.0L1646.3,555.4L1645.5,568.6L1644.6,578.3L1643.8,588.1L1642.9,590.3L1642.1,591.8L1641.2,592.5L1640.4,593.0L1639.5,593.4L1638.7,592.2L1637.8,594.5L1637.0,594.9L1636.1,595.4L1635.3,596.1L1634.4,595.4L1633.6,596.0L1632.7,597.1L1631.9,597.7L1631.0,598.6L1630.2,597.6L1629.3,597.7L1628.5,595.3L1627.6,596.2L1626.8,594.6L1625.9,593.3L1625.1,592.2L1624.2,592.9L1623.4,594.4L1622.5,589.4L1621.7,589.4L1620.8,587.8L1620.0,587.1L1619.1,588.5L1618.3,586.7L1617.4,586.9L1616.6,587.4L1615.7,586.3L1614.9,585.2L1614.0,585.9L1613.2,586.5L1612.3,586.1L1611.5,583.2L1610.6,586.1L1609.8,583.9L1608.9,582.2L1608.1,583.8L1607.2,582.9L1606.4,582.2L1605.5,583.8L1604.7,583.7L1603.8,583.5L1603.0,583.5L1602.1,584.5L1601.3,584.7L1600.4,587.0L1599.6,586.2L1598.7,585.6L1597.9,587.8L1597.0,586.6L1596.2,587.2L1595.3,589.3L1594.5,589.2L1593.6,587.8L1592.8,588.1L1591.9,588.5L1591.1,587.8L1590.2,586.2L1589.4,586.8L1588.5,585.3L1587.7,585.4L1586.8,584.0L1586.0,585.2L1585.1,582.5L1584.3,584.2L1583.4,582.8L1582.6,581.7L1581.7,581.0L1580.9,582.9Z" fill="#5DAA7C" stroke="#5DAA7C" stroke-width="0.5"/>
</g>
<line x1="1063.3" y1="251" x2="1063.3" y2="276" stroke="#5DAA7C" stroke-width="0.7" stroke-opacity="0.7"/>
<rect x="321.4" y="1290.2" width="170.6" height="168.0" fill="#EF845C"/>
<path d="M321.4,1458.2 V1290.2 M492.0,1458.2 V1290.2" stroke="#000" stroke-width="6.4" fill="none"/>
<line x1="318.4" y1="1290.2" x2="495.0" y2="1290.2" stroke="#000" stroke-width="5.8" stroke-linecap="round"/>
<rect x="587.0" y="1315.5" width="171.6" height="142.7" fill="#F7BC9F"/>
<path d="M587.0,1458.2 V1315.5 M758.6,1458.2 V1315.5" stroke="#000" stroke-width="6.4" fill="none"/>
<line x1="584.0" y1="1315.5" x2="761.6" y2="1315.5" stroke="#000" stroke-width="5.8" stroke-linecap="round"/>
<line x1="240.4" y1="971.3" x2="835.0" y2="971.3" stroke="#000" stroke-width="2.1" stroke-dasharray="11.5 8.1"/>
<line x1="229.6" y1="773.5" x2="229.6" y2="1460.8" stroke="#000" stroke-width="5.8" stroke-linecap="round"/>
<line x1="210.1" y1="1458.2" x2="852.4" y2="1458.2" stroke="#000" stroke-width="6.3" stroke-linecap="round"/>
<line x1="210.1" y1="1458.2" x2="229.6" y2="1458.2" stroke="#000" stroke-width="5.5" stroke-linecap="round"/>
<text x="200.6" y="1475.9" font-size="43.5" text-anchor="end">0</text>
<line x1="217.1" y1="1409.5" x2="229.6" y2="1409.5" stroke="#000" stroke-width="5.5" stroke-linecap="round"/>
<line x1="210.1" y1="1360.8" x2="229.6" y2="1360.8" stroke="#000" stroke-width="5.5" stroke-linecap="round"/>
<text x="200.6" y="1378.5" font-size="43.5" text-anchor="end">20</text>
<line x1="217.1" y1="1312.1" x2="229.6" y2="1312.1" stroke="#000" stroke-width="5.5" stroke-linecap="round"/>
<line x1="210.1" y1="1263.4" x2="229.6" y2="1263.4" stroke="#000" stroke-width="5.5" stroke-linecap="round"/>
<text x="200.6" y="1281.1" font-size="43.5" text-anchor="end">40</text>
<line x1="217.1" y1="1214.8" x2="229.6" y2="1214.8" stroke="#000" stroke-width="5.5" stroke-linecap="round"/>
<line x1="210.1" y1="1166.1" x2="229.6" y2="1166.1" stroke="#000" stroke-width="5.5" stroke-linecap="round"/>
<text x="200.6" y="1183.8" font-size="43.5" text-anchor="end">60</text>
<line x1="217.1" y1="1117.4" x2="229.6" y2="1117.4" stroke="#000" stroke-width="5.5" stroke-linecap="round"/>
<line x1="210.1" y1="1068.7" x2="229.6" y2="1068.7" stroke="#000" stroke-width="5.5" stroke-linecap="round"/>
<text x="200.6" y="1086.4" font-size="43.5" text-anchor="end">80</text>
<line x1="217.1" y1="1020.0" x2="229.6" y2="1020.0" stroke="#000" stroke-width="5.5" stroke-linecap="round"/>
<line x1="210.1" y1="971.3" x2="229.6" y2="971.3" stroke="#000" stroke-width="5.5" stroke-linecap="round"/>
<text x="200.6" y="989.0" font-size="43.5" text-anchor="end">100</text>
<line x1="217.1" y1="922.6" x2="229.6" y2="922.6" stroke="#000" stroke-width="5.5" stroke-linecap="round"/>
<line x1="210.1" y1="873.9" x2="229.6" y2="873.9" stroke="#000" stroke-width="5.5" stroke-linecap="round"/>
<text x="200.6" y="891.6" font-size="43.5" text-anchor="end">120</text>
<line x1="217.1" y1="825.2" x2="229.6" y2="825.2" stroke="#000" stroke-width="5.5" stroke-linecap="round"/>
<line x1="210.1" y1="776.5" x2="229.6" y2="776.5" stroke="#000" stroke-width="5.5" stroke-linecap="round"/>
<text x="200.6" y="794.2" font-size="43.5" text-anchor="end">140</text>
<line x1="405.9" y1="1103.2" x2="405.9" y2="1364.7" stroke="#000" stroke-width="5.6"/>
<line x1="361.9" y1="1103.2" x2="449.9" y2="1103.2" stroke="#000" stroke-width="5.6" stroke-linecap="round"/>
<line x1="361.9" y1="1364.7" x2="449.9" y2="1364.7" stroke="#000" stroke-width="5.6" stroke-linecap="round"/>
<line x1="672.4" y1="1054.1" x2="672.4" y2="1458.2" stroke="#000" stroke-width="5.6"/>
<line x1="628.4" y1="1054.1" x2="716.4" y2="1054.1" stroke="#000" stroke-width="5.6" stroke-linecap="round"/>
<circle cx="405.9" cy="938.1" r="9.7" fill="#fff" stroke="#000" stroke-width="6"/>
<circle cx="405.9" cy="1158.9" r="9.7" fill="#fff" stroke="#000" stroke-width="6"/>
<circle cx="405.9" cy="1262.7" r="12.8" fill="#000"/>
<circle cx="405.9" cy="1311.9" r="12.8" fill="#000"/>
<circle cx="405.9" cy="1333.0" r="9.7" fill="#fff" stroke="#000" stroke-width="6"/>
<circle cx="406.4" cy="1457.5" r="12.8" fill="#000"/>
<circle cx="672.6" cy="971.3" r="9.7" fill="#fff" stroke="#000" stroke-width="6"/>
<circle cx="672.6" cy="1081.3" r="12.8" fill="#000"/>
<circle cx="672.6" cy="1214.7" r="12.8" fill="#000"/>
<circle cx="672.6" cy="1411.1" r="9.7" fill="#fff" stroke="#000" stroke-width="6"/>
<circle cx="653.3" cy="1456.9" r="9.7" fill="#fff" stroke="#000" stroke-width="6"/>
<circle cx="691.2" cy="1457.0" r="12.8" fill="#000"/>
<text class="ser" transform="translate(464.0,1298.0) scale(0.78,1)" font-size="80" stroke="#000" stroke-width="0.9" stroke-linejoin="round" text-anchor="middle">*</text>
<text class="ser" transform="translate(722.7,1322.7) scale(0.78,1)" font-size="80" stroke="#000" stroke-width="0.9" stroke-linejoin="round" text-anchor="middle">*</text>
<rect x="288.2" y="775.9" width="212.9" height="117.5" fill="#fff" stroke="#000" stroke-width="1.6"/>
<circle cx="324.4" cy="806.0" r="8.4" fill="#fff" stroke="#000" stroke-width="4.4"/>
<circle cx="324.9" cy="859.5" r="11" fill="#000"/>
<text x="348.0" y="823.0" font-size="42.7">Young</text>
<text x="348.0" y="874.4" font-size="42.7">Aged</text>
<text transform="translate(62.0,1115.5) rotate(-90)" font-size="42.9" text-anchor="middle">modulation of TF</text>
<text transform="translate(112.2,1117.0) rotate(-90)" font-size="42.9" text-anchor="middle">(% of without drugs)</text>
<text x="407.0" y="1510.0" font-size="41" text-anchor="middle">phentolamine</text>
<text x="674.7" y="1510.0" font-size="41" text-anchor="middle">propranolol</text>
<rect x="1222.0" y="1326.7" width="171.0" height="131.5" fill="#EF845C"/>
<path d="M1222.0,1458.2 V1326.7 M1393.0,1458.2 V1326.7" stroke="#000" stroke-width="6.4" fill="none"/>
<line x1="1219.0" y1="1326.7" x2="1396.0" y2="1326.7" stroke="#000" stroke-width="5.8" stroke-linecap="round"/>
<rect x="1488.3" y="1031.2" width="171.7" height="427.0" fill="#F7BC9F"/>
<path d="M1488.3,1458.2 V1031.2 M1660.0,1458.2 V1031.2" stroke="#000" stroke-width="6.4" fill="none"/>
<line x1="1485.3" y1="1031.2" x2="1663.0" y2="1031.2" stroke="#000" stroke-width="5.8" stroke-linecap="round"/>
<line x1="1140.4" y1="971.3" x2="1736.8" y2="971.3" stroke="#000" stroke-width="2.1" stroke-dasharray="11.5 8.1"/>
<line x1="1130.3" y1="773.5" x2="1130.3" y2="1460.8" stroke="#000" stroke-width="5.9" stroke-linecap="round"/>
<line x1="1111.3" y1="1458.2" x2="1753.0" y2="1458.2" stroke="#000" stroke-width="6.3" stroke-linecap="round"/>
<line x1="1111.3" y1="1458.2" x2="1130.3" y2="1458.2" stroke="#000" stroke-width="5.5" stroke-linecap="round"/>
<text x="1103.3" y="1472.1" font-size="43.5" text-anchor="end">0</text>
<line x1="1118.8" y1="1409.5" x2="1130.3" y2="1409.5" stroke="#000" stroke-width="5.5" stroke-linecap="round"/>
<line x1="1111.3" y1="1360.8" x2="1130.3" y2="1360.8" stroke="#000" stroke-width="5.5" stroke-linecap="round"/>
<text x="1103.3" y="1374.7" font-size="43.5" text-anchor="end">20</text>
<line x1="1118.8" y1="1312.1" x2="1130.3" y2="1312.1" stroke="#000" stroke-width="5.5" stroke-linecap="round"/>
<line x1="1111.3" y1="1263.4" x2="1130.3" y2="1263.4" stroke="#000" stroke-width="5.5" stroke-linecap="round"/>
<text x="1103.3" y="1277.3" font-size="43.5" text-anchor="end">40</text>
<line x1="1118.8" y1="1214.8" x2="1130.3" y2="1214.8" stroke="#000" stroke-width="5.5" stroke-linecap="round"/>
<line x1="1111.3" y1="1166.1" x2="1130.3" y2="1166.1" stroke="#000" stroke-width="5.5" stroke-linecap="round"/>
<text x="1103.3" y="1180.0" font-size="43.5" text-anchor="end">60</text>
<line x1="1118.8" y1="1117.4" x2="1130.3" y2="1117.4" stroke="#000" stroke-width="5.5" stroke-linecap="round"/>
<line x1="1111.3" y1="1068.7" x2="1130.3" y2="1068.7" stroke="#000" stroke-width="5.5" stroke-linecap="round"/>
<text x="1103.3" y="1082.6" font-size="43.5" text-anchor="end">80</text>
<line x1="1118.8" y1="1020.0" x2="1130.3" y2="1020.0" stroke="#000" stroke-width="5.5" stroke-linecap="round"/>
<line x1="1111.3" y1="971.3" x2="1130.3" y2="971.3" stroke="#000" stroke-width="5.5" stroke-linecap="round"/>
<text x="1103.3" y="985.2" font-size="43.5" text-anchor="end">100</text>
<line x1="1118.8" y1="922.6" x2="1130.3" y2="922.6" stroke="#000" stroke-width="5.5" stroke-linecap="round"/>
<line x1="1111.3" y1="873.9" x2="1130.3" y2="873.9" stroke="#000" stroke-width="5.5" stroke-linecap="round"/>
<text x="1103.3" y="887.8" font-size="43.5" text-anchor="end">120</text>
<line x1="1118.8" y1="825.2" x2="1130.3" y2="825.2" stroke="#000" stroke-width="5.5" stroke-linecap="round"/>
<line x1="1111.3" y1="776.5" x2="1130.3" y2="776.5" stroke="#000" stroke-width="5.5" stroke-linecap="round"/>
<text x="1103.3" y="790.4" font-size="43.5" text-anchor="end">140</text>
<line x1="1306.3" y1="1277.1" x2="1306.3" y2="1406.6" stroke="#000" stroke-width="5.6"/>
<line x1="1262.3" y1="1277.1" x2="1350.3" y2="1277.1" stroke="#000" stroke-width="5.6" stroke-linecap="round"/>
<line x1="1262.3" y1="1406.6" x2="1350.3" y2="1406.6" stroke="#000" stroke-width="5.6" stroke-linecap="round"/>
<line x1="1573.2" y1="888.0" x2="1573.2" y2="1073.5" stroke="#000" stroke-width="5.6"/>
<line x1="1529.2" y1="888.0" x2="1617.2" y2="888.0" stroke="#000" stroke-width="5.6" stroke-linecap="round"/>
<line x1="1529.2" y1="1073.5" x2="1617.2" y2="1073.5" stroke="#000" stroke-width="5.6" stroke-linecap="round"/>
<circle cx="1269.0" cy="1277.0" r="12.8" fill="#000"/>
<circle cx="1345.2" cy="1277.0" r="9.7" fill="#fff" stroke="#000" stroke-width="6"/>
<circle cx="1306.5" cy="1293.3" r="12.8" fill="#000"/>
<circle cx="1306.5" cy="1351.9" r="9.7" fill="#fff" stroke="#000" stroke-width="6"/>
<circle cx="1306.5" cy="1390.5" r="12.8" fill="#000"/>
<circle cx="1306.0" cy="1458.5" r="9.7" fill="#fff" stroke="#000" stroke-width="6"/>
<circle cx="1573.2" cy="791.8" r="12.8" fill="#000"/>
<circle cx="1573.2" cy="984.5" r="12.8" fill="#000"/>
<circle cx="1554.6" cy="1027.8" r="9.7" fill="#fff" stroke="#000" stroke-width="6"/>
<circle cx="1591.9" cy="1042.4" r="9.7" fill="#fff" stroke="#000" stroke-width="6"/>
<circle cx="1573.2" cy="1105.7" r="9.7" fill="#fff" stroke="#000" stroke-width="6"/>
<text class="ser" transform="translate(1304.6,1277.6) scale(0.78,1)" font-size="80" stroke="#000" stroke-width="0.9" stroke-linejoin="round" text-anchor="middle">*</text>
<rect x="1189.8" y="775.9" width="213.0" height="117.5" fill="#fff" stroke="#000" stroke-width="1.6"/>
<circle cx="1226.0" cy="806.7" r="8.4" fill="#fff" stroke="#000" stroke-width="4.4"/>
<circle cx="1226.5" cy="860.2" r="11" fill="#000"/>
<text x="1250.4" y="823.0" font-size="42.7">Young</text>
<text x="1250.4" y="874.4" font-size="42.7">Aged</text>
<text transform="translate(968.0,1113.5) rotate(-90)" font-size="42.9" text-anchor="middle">modulation of muscle tonus</text>
<text transform="translate(1018.1,1099.3) rotate(-90)" font-size="42.9" text-anchor="middle">(% of without drugs)</text>
<text x="1311.1" y="1510.3" font-size="41" text-anchor="middle">phentolamine</text>
<text x="1579.2" y="1510.0" font-size="41" text-anchor="middle">propranolol</text>
</svg></body></html>
